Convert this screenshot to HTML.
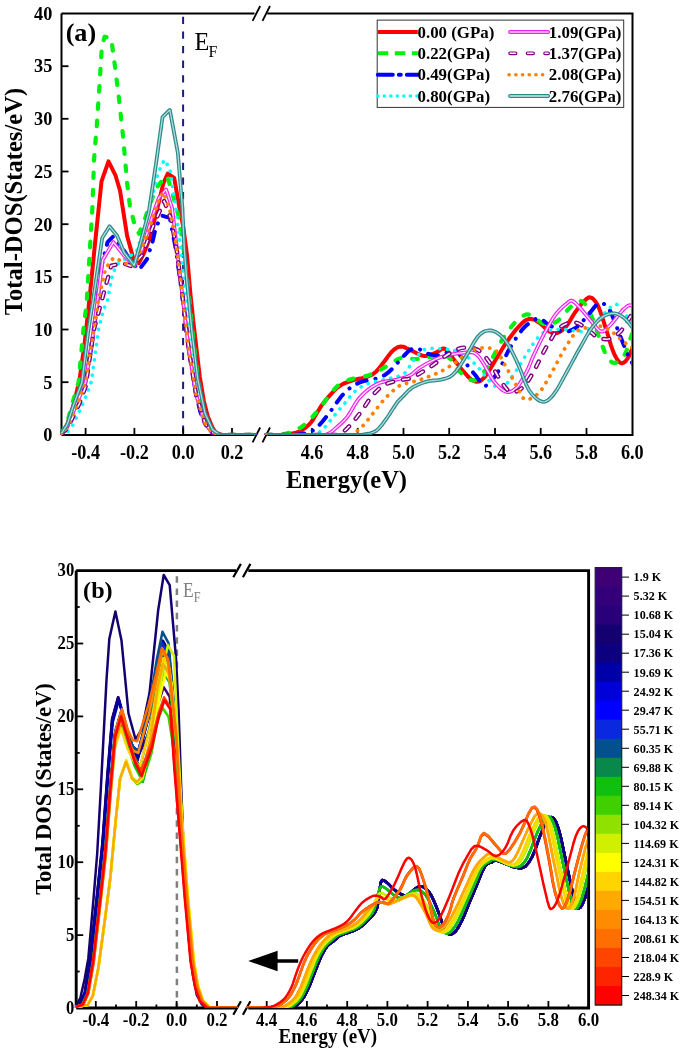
<!DOCTYPE html>
<html><head><meta charset="utf-8"><style>
html,body{margin:0;padding:0;background:#fff;width:685px;height:1052px;overflow:hidden}
svg{display:block;will-change:transform}
text{font-family:"Liberation Serif", serif}
</style></head><body>
<svg width="685" height="1052" viewBox="0 0 685 1052">
<defs>
<clipPath id="clipA"><rect x="60.5" y="14.4" width="571.0" height="420.5"/></clipPath>
<clipPath id="clipAin"><rect x="60.5" y="14.4" width="571.0" height="419.0"/></clipPath>
<clipPath id="clipB"><rect x="75.2" y="572.0" width="512.0" height="436.0"/></clipPath>
</defs>
<line x1="183.1" y1="16.8" x2="183.1" y2="434" stroke="#1c1c80" stroke-width="2" stroke-dasharray="7.3 7.3"/>
<text transform="translate(194.40,50.40) scale(1,1.050)" font-size="24.3" font-weight="normal" text-anchor="start" fill="#000" >E</text>
<text transform="translate(208.50,56.60)" font-size="16" font-weight="normal" text-anchor="start" fill="#000" >F</text>
<text transform="translate(80.90,41.40)" font-size="26.2" font-weight="bold" text-anchor="middle" fill="#000" >(a)</text>
<path d="M61.5,13.4 H254.5 M267.3,13.4 H632.5 V434.9 H267.3 M254.5,434.9 H61.5 Z" fill="none" stroke="#000" stroke-width="2"/>
<path d="M61.5,434.9 V13.4" stroke="#000" stroke-width="2"/>
<path d="M252.6,20.8 L260.2,6.0 M262.5,20.8 L270,6.0" stroke="#000" stroke-width="1.8"/>
<path d="M252.6,442.3 L260.2,427.5 M262.5,442.3 L270,427.5" stroke="#000" stroke-width="1.8"/>
<line x1="85.6" y1="434.9" x2="85.6" y2="427.9" stroke="#000" stroke-width="1.8"/>
<text transform="translate(85.60,458.60) scale(1,1.140)" font-size="18.2" font-weight="bold" text-anchor="middle" fill="#000" >-0.4</text>
<line x1="134.4" y1="434.9" x2="134.4" y2="427.9" stroke="#000" stroke-width="1.8"/>
<text transform="translate(134.40,458.60) scale(1,1.140)" font-size="18.2" font-weight="bold" text-anchor="middle" fill="#000" >-0.2</text>
<line x1="183.2" y1="434.9" x2="183.2" y2="427.9" stroke="#000" stroke-width="1.8"/>
<text transform="translate(183.20,458.60) scale(1,1.140)" font-size="18.2" font-weight="bold" text-anchor="middle" fill="#000" >0.0</text>
<line x1="232.0" y1="434.9" x2="232.0" y2="427.9" stroke="#000" stroke-width="1.8"/>
<text transform="translate(232.00,458.60) scale(1,1.140)" font-size="18.2" font-weight="bold" text-anchor="middle" fill="#000" >0.2</text>
<line x1="312.0" y1="434.9" x2="312.0" y2="427.9" stroke="#000" stroke-width="1.8"/>
<text transform="translate(312.00,458.60) scale(1,1.140)" font-size="18.2" font-weight="bold" text-anchor="middle" fill="#000" >4.6</text>
<line x1="357.7" y1="434.9" x2="357.7" y2="427.9" stroke="#000" stroke-width="1.8"/>
<text transform="translate(357.75,458.60) scale(1,1.140)" font-size="18.2" font-weight="bold" text-anchor="middle" fill="#000" >4.8</text>
<line x1="403.5" y1="434.9" x2="403.5" y2="427.9" stroke="#000" stroke-width="1.8"/>
<text transform="translate(403.50,458.60) scale(1,1.140)" font-size="18.2" font-weight="bold" text-anchor="middle" fill="#000" >5.0</text>
<line x1="449.2" y1="434.9" x2="449.2" y2="427.9" stroke="#000" stroke-width="1.8"/>
<text transform="translate(449.25,458.60) scale(1,1.140)" font-size="18.2" font-weight="bold" text-anchor="middle" fill="#000" >5.2</text>
<line x1="495.0" y1="434.9" x2="495.0" y2="427.9" stroke="#000" stroke-width="1.8"/>
<text transform="translate(495.00,458.60) scale(1,1.140)" font-size="18.2" font-weight="bold" text-anchor="middle" fill="#000" >5.4</text>
<line x1="540.7" y1="434.9" x2="540.7" y2="427.9" stroke="#000" stroke-width="1.8"/>
<text transform="translate(540.75,458.60) scale(1,1.140)" font-size="18.2" font-weight="bold" text-anchor="middle" fill="#000" >5.6</text>
<line x1="586.5" y1="434.9" x2="586.5" y2="427.9" stroke="#000" stroke-width="1.8"/>
<text transform="translate(586.50,458.60) scale(1,1.140)" font-size="18.2" font-weight="bold" text-anchor="middle" fill="#000" >5.8</text>
<text transform="translate(632.25,458.60) scale(1,1.140)" font-size="18.2" font-weight="bold" text-anchor="middle" fill="#000" >6.0</text>
<text transform="translate(52.40,441.20) scale(1,1.083)" font-size="18.3" font-weight="bold" text-anchor="end" fill="#000" >0</text>
<line x1="61.5" y1="382.2" x2="68.5" y2="382.2" stroke="#000" stroke-width="1.8"/>
<text transform="translate(52.40,388.52) scale(1,1.083)" font-size="18.3" font-weight="bold" text-anchor="end" fill="#000" >5</text>
<line x1="61.5" y1="329.5" x2="68.5" y2="329.5" stroke="#000" stroke-width="1.8"/>
<text transform="translate(52.40,335.85) scale(1,1.083)" font-size="18.3" font-weight="bold" text-anchor="end" fill="#000" >10</text>
<line x1="61.5" y1="276.9" x2="68.5" y2="276.9" stroke="#000" stroke-width="1.8"/>
<text transform="translate(52.40,283.18) scale(1,1.083)" font-size="18.3" font-weight="bold" text-anchor="end" fill="#000" >15</text>
<line x1="61.5" y1="224.2" x2="68.5" y2="224.2" stroke="#000" stroke-width="1.8"/>
<text transform="translate(52.40,230.50) scale(1,1.083)" font-size="18.3" font-weight="bold" text-anchor="end" fill="#000" >20</text>
<line x1="61.5" y1="171.5" x2="68.5" y2="171.5" stroke="#000" stroke-width="1.8"/>
<text transform="translate(52.40,177.82) scale(1,1.083)" font-size="18.3" font-weight="bold" text-anchor="end" fill="#000" >25</text>
<line x1="61.5" y1="118.8" x2="68.5" y2="118.8" stroke="#000" stroke-width="1.8"/>
<text transform="translate(52.40,125.15) scale(1,1.083)" font-size="18.3" font-weight="bold" text-anchor="end" fill="#000" >30</text>
<line x1="61.5" y1="66.2" x2="68.5" y2="66.2" stroke="#000" stroke-width="1.8"/>
<text transform="translate(52.40,72.47) scale(1,1.083)" font-size="18.3" font-weight="bold" text-anchor="end" fill="#000" >35</text>
<text transform="translate(52.40,19.80) scale(1,1.083)" font-size="18.3" font-weight="bold" text-anchor="end" fill="#000" >40</text>
<text transform="translate(346.50,487.50) scale(1,1.056)" font-size="24.5" font-weight="bold" text-anchor="middle" fill="#000" >Energy(eV)</text>
<text transform="translate(21.50,201.50) rotate(-90)" font-size="24.6" font-weight="bold" text-anchor="middle" fill="#000" >Total-DOS(States/eV)</text>
<g clip-path="url(#clipA)">
<path d="M61.2,433.8 L67.3,424.4 L73.4,405.4 L79.5,380.1 L84.4,345.4 L88.5,308.5 L95.4,240.0 L101.5,181.4 L108.5,161.4 L115.6,175.7 L120.0,190.5 L127.1,235.8 L133.4,259.0 L138.8,263.2 L144.2,252.6 L150.7,235.8 L157.6,207.3 L163.4,183.1 L167.8,173.6 L174.2,177.8 L179.5,208.4 L183.2,226.3 L187.1,255.8 L190.3,292.7 L193.4,322.2 L199.8,377.0 L203.9,401.2 L207.8,416.5 L212.5,427.5 L215.9,432.8 L222.2,434.9 L256.4,434.9" fill="none" stroke="#ff0000" stroke-width="4.0" stroke-linejoin="round" stroke-dasharray="none" stroke-linecap="butt"/>
<path d="M266.3,434.9 L268.3,434.9 L271.2,434.9 L274.5,434.9 L277.7,434.9 L280.9,434.8 L284.2,434.6 L287.4,434.3 L290.5,433.8 L293.3,433.3 L295.8,432.7 L298.3,431.9 L300.8,430.7 L303.3,429.2 L305.8,427.5 L308.3,425.3 L310.9,422.6 L313.4,419.0 L316.0,414.6 L318.6,410.2 L321.1,406.1 L323.7,402.7 L326.2,399.5 L328.7,396.6 L331.2,393.8 L333.7,391.2 L336.1,388.8 L338.7,386.7 L341.5,384.8 L344.8,383.1 L348.3,381.8 L352.0,380.6 L355.5,379.6 L358.8,378.7 L362.1,378.1 L365.2,377.4 L368.0,376.5 L370.4,375.5 L372.4,374.4 L374.3,373.1 L376.3,371.4 L378.3,369.2 L380.4,366.6 L382.5,363.8 L384.5,361.2 L386.5,358.5 L388.5,355.7 L390.5,353.1 L392.5,350.9 L394.5,349.2 L396.6,347.9 L398.6,346.9 L400.8,346.5 L402.9,346.7 L405.1,347.5 L407.4,348.7 L410.1,349.9 L413.4,351.5 L417.2,353.5 L421.0,355.2 L424.5,356.1 L427.9,355.8 L431.1,354.6 L434.2,353.2 L436.9,352.0 L439.2,350.8 L441.0,349.4 L442.8,348.5 L444.9,348.8 L447.4,350.9 L450.0,354.2 L452.7,357.9 L455.2,361.2 L457.4,363.9 L459.5,366.5 L461.4,369.0 L463.4,371.4 L465.5,373.7 L467.5,376.0 L469.5,378.0 L471.4,379.6 L473.3,380.7 L475.2,381.5 L477.0,381.8 L478.8,381.6 L480.5,380.9 L482.1,379.7 L483.9,377.9 L485.9,375.5 L488.2,372.1 L490.8,367.9 L493.5,363.4 L496.1,359.0 L498.6,355.0 L501.0,350.9 L503.5,346.8 L506.2,342.7 L509.4,338.3 L512.9,333.6 L516.3,329.3 L519.5,325.8 L522.1,323.1 L524.5,321.1 L526.8,319.8 L529.1,319.0 L531.4,319.0 L533.8,319.6 L536.1,320.8 L538.5,322.2 L540.9,324.0 L543.4,326.4 L545.8,328.8 L548.1,330.6 L550.1,331.9 L551.8,332.9 L553.6,333.4 L555.6,333.3 L557.9,332.7 L560.3,331.6 L562.8,329.9 L565.2,327.7 L567.7,324.4 L570.2,320.4 L572.6,316.3 L574.8,312.7 L576.9,309.9 L578.7,307.4 L580.5,305.2 L582.4,303.2 L584.3,301.2 L586.2,299.2 L588.0,297.8 L589.9,297.3 L591.8,297.9 L593.7,299.4 L595.6,301.8 L597.5,304.9 L599.4,309.1 L601.2,314.2 L603.1,319.9 L605.0,325.8 L607.0,332.0 L609.0,338.8 L611.0,345.3 L612.8,350.6 L614.4,354.5 L615.9,357.3 L617.2,359.5 L618.5,361.2 L619.7,362.4 L620.9,363.0 L622.0,363.2 L623.1,362.9 L624.3,362.3 L625.5,361.2 L626.7,359.7 L627.9,358.0 L629.1,355.7 L630.4,352.9 L631.5,350.3 L632.2,348.5" fill="none" stroke="#ff0000" stroke-width="4.0" stroke-linejoin="round" stroke-dasharray="none" stroke-linecap="butt"/>
<path d="M61.2,433.8 L67.3,422.3 L73.4,400.1 L78.6,382.2 L83.4,329.5 L86.6,303.2 L89.3,260.0 L92.4,207.3 L94.1,158.9 L96.8,125.2 L99.5,85.1 L101.9,46.2 L104.6,36.7 L111.2,38.3 L115.1,67.2 L119.0,98.8 L123.2,137.8 L127.1,183.1 L130.0,206.3 L134.4,224.2 L139.0,233.7 L144.2,221.0 L150.3,203.1 L156.1,188.4 L162.5,180.0 L167.1,175.7 L172.5,193.6 L177.8,213.7 L183.2,245.3 L188.1,287.4 L193.0,334.8 L197.8,377.0 L202.7,407.5 L207.6,424.4 L212.5,431.7 L219.8,434.9 L256.4,434.9" fill="none" stroke="#00f010" stroke-width="4.2" stroke-linejoin="round" stroke-dasharray="5.5 11.8" stroke-linecap="round"/>
<path d="M266.3,434.9 L268.3,434.9 L271.3,434.9 L274.6,434.9 L277.7,434.9 L280.5,434.6 L283.4,434.2 L286.2,433.6 L289.1,432.8 L292.0,431.8 L294.9,430.7 L297.8,429.3 L300.8,427.5 L303.8,425.3 L306.8,422.6 L309.8,419.6 L312.9,416.4 L316.1,412.6 L319.3,408.5 L322.6,404.2 L325.7,400.1 L328.8,396.2 L331.8,392.3 L334.8,388.7 L337.8,385.7 L340.7,383.5 L343.4,382.0 L346.3,380.8 L349.7,379.6 L353.9,378.5 L358.6,377.7 L363.4,376.8 L368.0,375.6 L372.3,373.9 L376.4,371.9 L380.5,369.7 L384.5,367.5 L388.6,365.0 L392.7,362.2 L396.8,359.7 L400.8,358.0 L404.7,357.6 L408.5,358.1 L412.3,358.8 L416.1,359.0 L419.7,358.7 L423.2,358.2 L426.8,357.5 L430.5,357.0 L434.6,356.4 L438.9,355.5 L443.1,355.2 L447.0,356.1 L450.3,358.9 L453.3,363.1 L456.2,367.6 L459.3,371.4 L462.8,374.6 L466.5,377.7 L470.2,379.9 L473.7,380.6 L477.0,379.4 L480.0,376.7 L483.0,373.2 L485.9,369.4 L488.6,365.2 L491.3,360.3 L493.8,355.4 L496.1,350.9 L498.3,347.0 L500.1,343.5 L502.0,340.0 L504.2,336.6 L506.6,333.1 L509.1,329.5 L511.8,326.2 L514.4,323.2 L517.2,320.5 L520.0,318.1 L522.7,316.1 L525.2,314.8 L527.3,314.3 L529.0,314.6 L530.8,315.3 L533.0,316.4 L535.5,318.2 L538.4,320.6 L541.4,322.9 L544.4,324.3 L547.6,324.5 L550.8,324.1 L554.1,322.9 L557.4,321.1 L560.8,318.1 L564.2,314.2 L567.5,310.1 L570.7,306.9 L573.7,304.4 L576.5,302.2 L579.3,300.9 L581.9,301.1 L584.5,303.3 L587.0,307.1 L589.3,311.7 L591.5,316.4 L593.6,321.2 L595.4,326.5 L597.2,331.9 L599.1,337.1 L601.0,342.3 L603.0,347.5 L604.9,352.3 L606.9,356.2 L608.7,359.1 L610.5,361.2 L612.4,362.5 L614.4,362.9 L616.7,362.5 L619.2,361.3 L621.7,359.2 L624.0,356.2 L626.2,351.6 L628.2,345.7 L630.0,339.7 L631.6,335.2 L632.7,332.6 L633.5,331.1 L634.1,330.2 L634.5,329.5" fill="none" stroke="#00f010" stroke-width="4.2" stroke-linejoin="round" stroke-dasharray="5.5 11.8" stroke-linecap="round"/>
<path d="M61.2,433.8 L67.3,426.5 L73.4,411.7 L79.5,397.0 L85.4,382.2 L91.7,345.4 L96.6,308.5 L101.5,265.7 L107.6,242.1 L112.9,236.8 L122.7,248.4 L130.7,261.1 L139.0,269.9 L147.1,259.0 L152.7,241.1 L156.1,226.3 L162.5,215.8 L169.8,217.9 L176.1,250.5 L183.4,304.3 L188.8,349.6 L196.1,394.9 L200.3,411.7 L205.2,423.8 L212.5,432.8 L217.4,434.9 L256.4,434.9" fill="none" stroke="#0000ff" stroke-width="4.0" stroke-linejoin="round" stroke-dasharray="10 9 0.1 9" stroke-linecap="round"/>
<path d="M266.3,434.9 L270.6,434.9 L276.8,434.9 L283.5,434.9 L289.1,434.9 L293.3,434.7 L296.9,434.5 L300.0,434.2 L302.8,433.8 L305.2,433.5 L307.1,433.2 L308.9,432.7 L310.9,431.7 L313.0,430.4 L315.2,428.8 L317.5,426.8 L320.0,424.4 L322.7,421.3 L325.5,417.8 L328.4,414.0 L331.2,410.4 L333.9,406.7 L336.5,402.8 L339.2,399.2 L341.7,395.9 L344.3,393.2 L346.8,390.8 L349.3,388.6 L351.8,386.8 L354.3,385.1 L356.7,383.8 L359.2,382.6 L362.1,381.6 L365.4,380.8 L369.1,380.1 L372.8,379.5 L376.3,378.5 L379.4,377.4 L382.3,376.3 L385.3,374.7 L388.4,372.4 L392.0,369.0 L395.9,364.8 L399.6,360.5 L402.8,357.0 L405.2,354.5 L407.0,352.6 L408.6,351.1 L410.4,349.9 L412.3,349.0 L414.2,348.6 L416.2,348.5 L418.4,348.8 L420.7,349.8 L423.2,351.3 L425.9,352.8 L428.7,354.0 L431.6,354.7 L434.6,355.1 L437.7,355.2 L441.0,355.0 L444.5,353.9 L448.1,352.2 L451.7,350.8 L455.2,350.9 L458.5,353.3 L461.8,357.3 L464.8,361.6 L467.6,365.4 L469.8,368.2 L471.7,370.7 L473.5,373.0 L475.6,375.5 L477.9,378.6 L480.4,382.1 L483.1,384.9 L485.9,385.7 L488.8,384.0 L492.0,380.5 L495.2,376.0 L498.2,371.4 L500.9,366.6 L503.4,361.3 L505.8,355.9 L508.3,350.9 L510.9,346.4 L513.5,342.1 L516.1,338.1 L518.6,334.6 L520.7,331.6 L522.7,329.1 L524.7,326.9 L527.0,324.8 L529.7,322.7 L532.7,320.6 L535.7,319.0 L538.5,318.3 L541.0,318.9 L543.3,320.5 L545.6,322.5 L548.1,324.3 L550.9,326.0 L553.9,327.8 L556.9,329.4 L559.5,330.6 L561.6,331.4 L563.3,331.9 L565.0,332.0 L567.1,331.7 L569.6,330.8 L572.5,329.6 L575.5,327.9 L578.5,325.8 L581.4,322.9 L584.3,319.4 L587.2,315.9 L589.9,312.7 L592.4,309.7 L594.7,306.8 L597.0,304.4 L599.3,303.2 L601.7,303.1 L604.1,304.0 L606.5,305.8 L608.9,308.8 L611.4,313.4 L613.8,319.4 L616.3,325.8 L618.5,331.7 L620.6,336.9 L622.6,341.9 L624.4,346.5 L626.1,350.6 L627.6,354.1 L629.1,357.2 L630.4,359.7 L631.6,361.9 L632.6,363.6 L633.4,364.9 L634.1,365.8 L634.5,366.4" fill="none" stroke="#0000ff" stroke-width="4.0" stroke-linejoin="round" stroke-dasharray="10 9 0.1 9" stroke-linecap="round"/>
<path d="M61.2,434.9 L67.3,431.7 L71.9,426.5 L78.3,413.8 L84.4,400.1 L91.2,382.2 L98.5,329.5 L103.9,308.5 L107.1,302.2 L112.9,272.7 L118.5,263.2 L127.1,257.9 L136.4,251.6 L144.2,229.5 L151.5,200.0 L157.8,173.6 L164.2,159.9 L169.8,168.4 L175.9,208.4 L180.8,250.5 L184.4,287.4 L189.3,340.1 L195.4,387.5 L201.5,413.8 L207.6,427.5 L213.7,433.3 L218.6,434.9 L256.4,434.9" fill="none" stroke="#00ffff" stroke-width="3.6" stroke-linejoin="round" stroke-dasharray="0.1 7.6" stroke-linecap="round"/>
<path d="M266.3,434.9 L272.9,434.9 L282.4,434.9 L292.5,434.9 L300.6,434.9 L305.9,434.9 L309.9,434.8 L313.1,434.6 L316.1,433.8 L318.8,432.6 L321.0,431.0 L323.1,429.0 L325.3,426.7 L327.7,424.0 L330.2,420.8 L332.8,417.5 L335.3,414.4 L337.9,411.3 L340.5,408.2 L343.1,405.2 L345.6,402.2 L348.1,399.2 L350.4,396.2 L352.8,393.4 L355.5,390.9 L358.3,388.7 L361.3,386.8 L364.6,385.2 L368.0,383.7 L371.9,382.5 L376.0,381.5 L380.3,380.5 L384.5,379.6 L388.8,378.6 L393.3,377.6 L397.4,376.6 L400.8,375.5 L403.0,374.4 L404.5,373.3 L405.7,372.1 L406.9,370.6 L408.3,368.8 L409.5,366.6 L410.8,364.4 L412.2,362.2 L413.9,360.0 L415.7,357.8 L417.7,355.6 L419.5,353.8 L421.1,352.2 L422.6,350.8 L424.3,349.6 L426.6,348.8 L429.7,348.4 L433.4,348.4 L437.3,348.6 L441.0,348.8 L444.6,349.1 L448.2,349.5 L451.8,350.1 L455.2,350.9 L458.4,352.0 L461.5,353.4 L464.5,355.0 L467.6,357.0 L470.6,359.6 L473.7,362.7 L476.8,366.0 L479.9,369.4 L483.0,373.1 L486.1,377.1 L489.1,380.8 L492.0,383.7 L494.7,385.9 L497.2,387.5 L499.7,388.2 L502.3,387.7 L505.3,385.5 L508.4,381.8 L511.5,377.5 L514.4,373.4 L517.1,369.5 L519.6,365.5 L522.1,361.3 L524.7,357.0 L527.7,352.3 L530.9,347.3 L534.1,342.5 L537.1,338.6 L539.7,335.7 L542.2,333.5 L544.8,331.9 L548.1,330.6 L552.3,329.8 L557.3,329.5 L562.4,329.4 L567.1,329.5 L571.2,330.1 L575.1,331.0 L578.8,331.7 L582.4,331.4 L585.9,330.0 L589.3,327.7 L592.5,324.9 L595.6,322.2 L598.7,319.3 L601.6,316.2 L604.4,313.2 L607.1,310.6 L609.6,308.2 L611.9,306.0 L614.2,304.5 L616.5,304.3 L618.9,305.7 L621.5,308.3 L623.9,311.6 L626.1,314.8 L628.0,318.1 L629.8,321.8 L631.2,325.1 L632.2,327.4" fill="none" stroke="#00ffff" stroke-width="3.6" stroke-linejoin="round" stroke-dasharray="0.1 7.6" stroke-linecap="round"/>
<path d="M61.2,433.8 L67.3,426.5 L73.4,411.7 L79.5,397.0 L85.6,382.2 L92.9,334.8 L97.8,297.9 L102.7,260.0 L113.4,242.1 L124.2,255.8 L134.4,266.3 L141.7,250.5 L151.5,218.9 L158.8,197.9 L166.1,189.4 L172.2,208.4 L177.1,250.5 L183.4,304.3 L188.8,349.6 L196.1,394.9 L205.2,423.8 L212.5,432.8 L217.4,434.9 L256.4,434.9" fill="none" stroke="#f020f0" stroke-width="3.8" stroke-linejoin="round" stroke-dasharray="none" stroke-linecap="butt"/>
<g clip-path="url(#clipAin)"><path d="M61.2,433.8 L67.3,426.5 L73.4,411.7 L79.5,397.0 L85.6,382.2 L92.9,334.8 L97.8,297.9 L102.7,260.0 L113.4,242.1 L124.2,255.8 L134.4,266.3 L141.7,250.5 L151.5,218.9 L158.8,197.9 L166.1,189.4 L172.2,208.4 L177.1,250.5 L183.4,304.3 L188.8,349.6 L196.1,394.9 L205.2,423.8 L212.5,432.8 L217.4,434.9 L256.4,434.9" fill="none" stroke="#ffe8ff" stroke-width="1.4" stroke-linejoin="round" stroke-dasharray="none" stroke-linecap="butt"/></g>
<path d="M266.3,434.9 L276.2,434.9 L290.7,434.9 L305.5,434.9 L316.6,434.9 L322.2,434.9 L324.9,434.8 L326.2,434.6 L328.0,433.8 L330.5,432.6 L332.8,430.8 L335.0,428.8 L337.4,426.7 L339.9,424.5 L342.5,422.1 L345.1,419.4 L347.7,416.4 L350.2,412.6 L352.7,408.2 L355.2,403.9 L357.7,400.1 L360.3,397.1 L362.8,394.4 L365.3,392.0 L368.0,389.8 L370.9,387.7 L373.8,385.8 L377.0,384.1 L380.4,382.6 L384.3,381.6 L388.5,380.9 L392.7,380.3 L396.6,379.6 L400.2,378.7 L403.6,377.9 L406.9,376.8 L409.9,375.5 L412.5,373.8 L414.7,371.8 L417.2,369.6 L420.4,367.3 L424.9,364.7 L430.1,361.9 L435.6,359.2 L441.0,357.0 L446.4,355.5 L451.8,354.4 L457.0,353.5 L461.6,352.9 L465.4,352.5 L468.6,352.2 L471.4,352.3 L474.0,352.9 L476.2,354.1 L478.0,355.8 L479.8,358.0 L482.0,361.2 L484.7,365.6 L487.8,371.2 L491.0,376.9 L494.1,381.6 L497.2,385.2 L500.3,388.2 L503.3,390.5 L506.2,391.8 L508.9,392.1 L511.5,391.4 L514.0,389.9 L516.5,387.7 L519.2,384.5 L521.8,380.3 L524.4,375.8 L526.8,371.4 L528.7,367.4 L530.3,363.4 L531.9,359.3 L533.9,354.8 L536.3,349.7 L538.9,344.2 L541.7,338.6 L544.4,333.3 L547.2,328.3 L550.0,323.3 L552.8,318.6 L555.6,314.5 L558.6,310.9 L561.7,307.8 L564.6,305.2 L567.1,303.2 L568.8,301.8 L570.0,300.9 L571.2,300.6 L572.8,301.1 L574.9,302.6 L577.3,305.0 L579.9,307.8 L582.4,310.6 L584.8,313.4 L587.2,316.4 L589.6,319.4 L592.0,322.2 L594.3,325.1 L596.7,328.1 L599.0,330.5 L601.4,331.7 L603.8,331.1 L606.2,329.3 L608.6,326.8 L611.0,324.3 L613.4,321.6 L615.8,318.5 L618.1,315.4 L620.4,312.7 L622.4,310.5 L624.4,308.6 L626.3,307.0 L627.9,305.8 L629.3,305.3 L630.5,305.2 L631.5,305.3 L632.2,305.3" fill="none" stroke="#f020f0" stroke-width="3.8" stroke-linejoin="round" stroke-dasharray="none" stroke-linecap="butt"/>
<g clip-path="url(#clipAin)"><path d="M266.3,434.9 L276.2,434.9 L290.7,434.9 L305.5,434.9 L316.6,434.9 L322.2,434.9 L324.9,434.8 L326.2,434.6 L328.0,433.8 L330.5,432.6 L332.8,430.8 L335.0,428.8 L337.4,426.7 L339.9,424.5 L342.5,422.1 L345.1,419.4 L347.7,416.4 L350.2,412.6 L352.7,408.2 L355.2,403.9 L357.7,400.1 L360.3,397.1 L362.8,394.4 L365.3,392.0 L368.0,389.8 L370.9,387.7 L373.8,385.8 L377.0,384.1 L380.4,382.6 L384.3,381.6 L388.5,380.9 L392.7,380.3 L396.6,379.6 L400.2,378.7 L403.6,377.9 L406.9,376.8 L409.9,375.5 L412.5,373.8 L414.7,371.8 L417.2,369.6 L420.4,367.3 L424.9,364.7 L430.1,361.9 L435.6,359.2 L441.0,357.0 L446.4,355.5 L451.8,354.4 L457.0,353.5 L461.6,352.9 L465.4,352.5 L468.6,352.2 L471.4,352.3 L474.0,352.9 L476.2,354.1 L478.0,355.8 L479.8,358.0 L482.0,361.2 L484.7,365.6 L487.8,371.2 L491.0,376.9 L494.1,381.6 L497.2,385.2 L500.3,388.2 L503.3,390.5 L506.2,391.8 L508.9,392.1 L511.5,391.4 L514.0,389.9 L516.5,387.7 L519.2,384.5 L521.8,380.3 L524.4,375.8 L526.8,371.4 L528.7,367.4 L530.3,363.4 L531.9,359.3 L533.9,354.8 L536.3,349.7 L538.9,344.2 L541.7,338.6 L544.4,333.3 L547.2,328.3 L550.0,323.3 L552.8,318.6 L555.6,314.5 L558.6,310.9 L561.7,307.8 L564.6,305.2 L567.1,303.2 L568.8,301.8 L570.0,300.9 L571.2,300.6 L572.8,301.1 L574.9,302.6 L577.3,305.0 L579.9,307.8 L582.4,310.6 L584.8,313.4 L587.2,316.4 L589.6,319.4 L592.0,322.2 L594.3,325.1 L596.7,328.1 L599.0,330.5 L601.4,331.7 L603.8,331.1 L606.2,329.3 L608.6,326.8 L611.0,324.3 L613.4,321.6 L615.8,318.5 L618.1,315.4 L620.4,312.7 L622.4,310.5 L624.4,308.6 L626.3,307.0 L627.9,305.8 L629.3,305.3 L630.5,305.2 L631.5,305.3 L632.2,305.3" fill="none" stroke="#ffe8ff" stroke-width="1.4" stroke-linejoin="round" stroke-dasharray="none" stroke-linecap="butt"/></g>
<path d="M61.2,433.8 L67.3,428.6 L73.4,415.9 L79.5,403.3 L85.6,386.4 L93.9,329.5 L101.0,303.2 L102.7,296.9 L111.2,265.7 L122.7,263.2 L132.0,266.3 L141.7,255.8 L153.9,224.2 L164.2,201.0 L171.0,218.9 L177.1,252.6 L183.2,302.2 L188.8,349.6 L196.1,394.9 L205.2,423.8 L212.5,432.8 L217.4,434.9 L256.4,434.9" fill="none" stroke="#800080" stroke-width="4.4" stroke-linejoin="round" stroke-dasharray="6 10" stroke-linecap="round"/>
<g clip-path="url(#clipAin)"><path d="M61.2,433.8 L67.3,428.6 L73.4,415.9 L79.5,403.3 L85.6,386.4 L93.9,329.5 L101.0,303.2 L102.7,296.9 L111.2,265.7 L122.7,263.2 L132.0,266.3 L141.7,255.8 L153.9,224.2 L164.2,201.0 L171.0,218.9 L177.1,252.6 L183.2,302.2 L188.8,349.6 L196.1,394.9 L205.2,423.8 L212.5,432.8 L217.4,434.9 L256.4,434.9" fill="none" stroke="#ffffff" stroke-width="1.6" stroke-linejoin="round" stroke-dasharray="6 10" stroke-linecap="round"/></g>
<path d="M266.3,434.9 L279.0,434.9 L297.7,434.9 L316.6,434.9 L330.3,434.9 L336.6,434.9 L338.6,434.9 L339.0,434.6 L340.1,433.8 L342.5,432.5 L344.8,430.6 L347.2,428.3 L349.7,425.6 L352.7,422.3 L355.9,418.4 L359.1,414.3 L362.1,410.4 L364.7,406.6 L367.1,402.9 L369.5,399.3 L372.2,395.9 L375.0,392.7 L378.0,389.7 L381.1,387.0 L384.5,384.8 L388.5,383.1 L392.8,381.8 L397.1,380.9 L400.8,380.1 L403.6,379.5 L405.9,379.2 L408.0,379.0 L409.9,378.5 L411.5,378.0 L412.7,377.5 L414.1,376.8 L416.3,375.5 L419.7,373.5 L423.9,370.9 L428.4,368.1 L432.6,365.4 L436.3,362.7 L439.9,360.0 L443.4,357.4 L447.0,355.0 L450.6,352.8 L454.2,350.7 L457.8,349.0 L461.6,347.9 L465.6,347.5 L469.9,347.6 L474.0,348.4 L477.8,349.9 L481.3,352.4 L484.4,355.7 L487.4,359.4 L490.2,363.3 L492.8,367.2 L495.2,371.5 L497.6,375.7 L500.0,379.6 L502.5,383.3 L505.0,387.0 L507.6,390.0 L510.3,391.8 L513.3,392.2 L516.4,391.5 L519.5,389.9 L522.4,387.7 L525.2,384.8 L527.9,381.1 L530.5,377.0 L533.0,372.7 L535.4,368.3 L537.8,363.4 L540.2,358.6 L542.4,354.3 L544.3,350.7 L546.1,347.4 L547.9,344.3 L549.9,341.1 L552.0,337.6 L554.2,333.9 L556.7,330.5 L559.5,327.7 L562.9,325.4 L566.8,323.5 L570.9,322.3 L574.8,322.2 L578.8,323.6 L582.9,326.2 L586.7,329.2 L589.9,331.7 L592.3,333.4 L593.9,334.9 L595.5,336.1 L597.5,337.1 L600.1,338.1 L603.0,338.9 L606.0,339.3 L608.9,339.0 L611.8,338.0 L614.8,336.4 L617.6,334.2 L620.4,331.7 L623.1,328.3 L625.7,324.2 L628.1,320.2 L630.0,317.2 L631.1,315.5 L631.7,314.6 L632.0,314.1 L632.2,313.7" fill="none" stroke="#800080" stroke-width="4.4" stroke-linejoin="round" stroke-dasharray="6 10" stroke-linecap="round"/>
<g clip-path="url(#clipAin)"><path d="M266.3,434.9 L279.0,434.9 L297.7,434.9 L316.6,434.9 L330.3,434.9 L336.6,434.9 L338.6,434.9 L339.0,434.6 L340.1,433.8 L342.5,432.5 L344.8,430.6 L347.2,428.3 L349.7,425.6 L352.7,422.3 L355.9,418.4 L359.1,414.3 L362.1,410.4 L364.7,406.6 L367.1,402.9 L369.5,399.3 L372.2,395.9 L375.0,392.7 L378.0,389.7 L381.1,387.0 L384.5,384.8 L388.5,383.1 L392.8,381.8 L397.1,380.9 L400.8,380.1 L403.6,379.5 L405.9,379.2 L408.0,379.0 L409.9,378.5 L411.5,378.0 L412.7,377.5 L414.1,376.8 L416.3,375.5 L419.7,373.5 L423.9,370.9 L428.4,368.1 L432.6,365.4 L436.3,362.7 L439.9,360.0 L443.4,357.4 L447.0,355.0 L450.6,352.8 L454.2,350.7 L457.8,349.0 L461.6,347.9 L465.6,347.5 L469.9,347.6 L474.0,348.4 L477.8,349.9 L481.3,352.4 L484.4,355.7 L487.4,359.4 L490.2,363.3 L492.8,367.2 L495.2,371.5 L497.6,375.7 L500.0,379.6 L502.5,383.3 L505.0,387.0 L507.6,390.0 L510.3,391.8 L513.3,392.2 L516.4,391.5 L519.5,389.9 L522.4,387.7 L525.2,384.8 L527.9,381.1 L530.5,377.0 L533.0,372.7 L535.4,368.3 L537.8,363.4 L540.2,358.6 L542.4,354.3 L544.3,350.7 L546.1,347.4 L547.9,344.3 L549.9,341.1 L552.0,337.6 L554.2,333.9 L556.7,330.5 L559.5,327.7 L562.9,325.4 L566.8,323.5 L570.9,322.3 L574.8,322.2 L578.8,323.6 L582.9,326.2 L586.7,329.2 L589.9,331.7 L592.3,333.4 L593.9,334.9 L595.5,336.1 L597.5,337.1 L600.1,338.1 L603.0,338.9 L606.0,339.3 L608.9,339.0 L611.8,338.0 L614.8,336.4 L617.6,334.2 L620.4,331.7 L623.1,328.3 L625.7,324.2 L628.1,320.2 L630.0,317.2 L631.1,315.5 L631.7,314.6 L632.0,314.1 L632.2,313.7" fill="none" stroke="#ffffff" stroke-width="1.6" stroke-linejoin="round" stroke-dasharray="6 10" stroke-linecap="round"/></g>
<path d="M61.2,433.8 L67.3,427.5 L73.4,413.8 L79.5,399.1 L85.6,382.2 L93.9,329.5 L97.8,303.2 L105.6,268.4 L113.4,257.9 L122.2,261.1 L130.0,266.3 L136.8,261.1 L149.0,229.5 L158.8,200.0 L163.4,192.1 L171.0,213.7 L177.1,250.5 L183.2,302.2 L188.8,349.6 L196.1,394.9 L205.2,423.8 L212.5,432.8 L217.4,434.9 L256.4,434.9" fill="none" stroke="#ff7f00" stroke-width="3.8" stroke-linejoin="round" stroke-dasharray="0.1 7.6" stroke-linecap="round"/>
<path d="M266.3,434.9 L281.3,434.9 L303.4,434.9 L325.7,434.9 L341.7,434.9 L348.9,434.9 L351.0,434.8 L351.0,434.6 L352.0,433.8 L354.6,432.6 L357.1,431.0 L359.6,429.0 L362.1,426.7 L364.6,424.0 L367.0,421.0 L369.5,417.8 L372.2,414.4 L375.1,410.7 L378.2,406.7 L381.4,402.7 L384.5,399.1 L387.7,395.8 L390.9,392.6 L394.0,389.9 L396.6,387.7 L398.5,386.3 L399.8,385.6 L401.2,385.1 L403.5,384.3 L406.9,383.3 L411.1,382.3 L415.7,381.1 L420.4,379.6 L425.4,377.8 L430.8,375.8 L436.1,373.7 L441.0,371.4 L445.5,369.0 L449.6,366.4 L453.6,363.8 L457.3,361.2 L460.6,358.4 L463.7,355.6 L466.7,353.0 L469.8,350.9 L473.3,349.5 L477.0,348.6 L480.6,348.0 L484.0,347.9 L487.2,347.9 L490.3,348.2 L493.3,349.1 L496.1,350.9 L498.8,354.0 L501.3,358.1 L503.7,362.7 L506.2,367.3 L508.8,371.8 L511.4,376.6 L514.0,381.4 L516.5,385.7 L518.7,390.0 L520.7,394.2 L522.7,397.7 L525.2,399.6 L528.3,399.6 L531.8,398.2 L535.3,395.9 L538.5,393.3 L541.1,390.4 L543.5,386.9 L545.8,383.0 L548.1,379.1 L550.4,375.0 L552.8,370.7 L555.1,366.2 L557.4,361.9 L559.8,357.5 L562.2,353.1 L564.6,348.8 L567.1,344.8 L569.5,341.0 L571.9,337.3 L574.3,334.0 L576.7,331.4 L579.0,329.8 L581.4,328.8 L583.8,328.2 L586.3,327.7 L589.0,326.9 L591.8,326.2 L594.6,325.8 L597.5,325.8 L600.3,326.2 L603.2,326.9 L606.1,328.1 L608.9,329.5 L611.8,331.6 L614.8,334.0 L617.6,336.7 L620.4,339.0 L623.1,341.2 L625.7,343.4 L628.1,345.3 L630.0,346.7 L631.1,347.4 L631.7,347.6 L632.0,347.5 L632.2,347.5" fill="none" stroke="#ff7f00" stroke-width="3.8" stroke-linejoin="round" stroke-dasharray="0.1 7.6" stroke-linecap="round"/>
<path d="M61.2,433.8 L67.3,424.4 L73.4,405.4 L81.9,382.2 L88.5,329.5 L92.7,303.2 L97.8,268.4 L102.2,237.9 L109.5,226.3 L117.1,235.8 L124.2,252.6 L134.2,265.3 L140.0,244.6 L148.8,212.1 L156.4,161.0 L162.5,117.2 L169.8,109.9 L177.8,152.6 L182.2,205.2 L184.4,250.5 L186.9,281.1 L191.7,329.5 L197.8,379.1 L205.2,413.8 L212.5,429.6 L219.8,434.9 L256.4,434.9" fill="none" stroke="#2e8b8b" stroke-width="3.8" stroke-linejoin="round" stroke-dasharray="none" stroke-linecap="butt"/>
<g clip-path="url(#clipAin)"><path d="M61.2,433.8 L67.3,424.4 L73.4,405.4 L81.9,382.2 L88.5,329.5 L92.7,303.2 L97.8,268.4 L102.2,237.9 L109.5,226.3 L117.1,235.8 L124.2,252.6 L134.2,265.3 L140.0,244.6 L148.8,212.1 L156.4,161.0 L162.5,117.2 L169.8,109.9 L177.8,152.6 L182.2,205.2 L184.4,250.5 L186.9,281.1 L191.7,329.5 L197.8,379.1 L205.2,413.8 L212.5,429.6 L219.8,434.9 L256.4,434.9" fill="none" stroke="#b0dcdc" stroke-width="1.3" stroke-linejoin="round" stroke-dasharray="none" stroke-linecap="butt"/></g>
<path d="M266.3,434.9 L283.6,434.9 L309.0,434.9 L334.7,434.9 L353.2,434.9 L361.2,434.9 L363.3,434.9 L363.1,434.7 L364.2,434.4 L367.1,433.9 L370.3,433.3 L373.3,432.3 L376.3,430.7 L379.0,428.3 L381.6,425.3 L384.1,421.9 L386.6,418.5 L389.2,414.7 L391.8,410.6 L394.4,406.6 L396.6,403.3 L398.5,400.9 L400.2,399.2 L401.7,397.6 L403.5,395.9 L405.4,393.9 L407.4,391.7 L409.6,389.6 L412.2,387.7 L415.4,385.9 L419.0,384.3 L422.9,382.8 L426.6,381.6 L430.3,380.9 L434.0,380.5 L437.6,380.2 L441.0,379.6 L444.2,378.8 L447.2,378.0 L450.1,376.7 L453.1,374.5 L456.2,371.1 L459.3,366.8 L462.4,361.9 L465.5,357.0 L468.6,351.8 L471.8,346.1 L474.9,340.8 L477.8,336.6 L480.6,333.9 L483.1,332.1 L485.6,331.0 L488.1,330.5 L490.7,330.4 L493.2,330.9 L495.7,332.0 L498.2,333.6 L500.7,335.6 L503.2,338.0 L505.7,341.1 L508.3,344.8 L510.9,349.4 L513.6,354.8 L516.4,360.6 L519.0,366.4 L521.5,372.5 L523.9,379.0 L526.4,385.2 L529.1,390.3 L532.2,394.5 L535.6,398.0 L539.1,400.6 L542.4,401.8 L545.3,401.6 L548.1,400.2 L550.8,397.7 L553.8,394.2 L557.0,389.6 L560.3,383.9 L563.7,377.6 L567.1,371.4 L570.5,365.2 L573.9,358.8 L577.3,352.5 L580.6,346.7 L583.6,341.4 L586.4,336.4 L589.2,331.7 L592.0,327.7 L594.8,324.1 L597.7,321.0 L600.6,318.4 L603.4,316.4 L606.3,314.9 L609.3,313.9 L612.1,313.4 L614.9,313.4 L617.4,314.0 L619.9,315.1 L622.2,316.6 L624.5,318.3 L626.7,320.5 L629.0,323.2 L630.9,325.7 L632.2,327.4" fill="none" stroke="#2e8b8b" stroke-width="3.8" stroke-linejoin="round" stroke-dasharray="none" stroke-linecap="butt"/>
<g clip-path="url(#clipAin)"><path d="M266.3,434.9 L283.6,434.9 L309.0,434.9 L334.7,434.9 L353.2,434.9 L361.2,434.9 L363.3,434.9 L363.1,434.7 L364.2,434.4 L367.1,433.9 L370.3,433.3 L373.3,432.3 L376.3,430.7 L379.0,428.3 L381.6,425.3 L384.1,421.9 L386.6,418.5 L389.2,414.7 L391.8,410.6 L394.4,406.6 L396.6,403.3 L398.5,400.9 L400.2,399.2 L401.7,397.6 L403.5,395.9 L405.4,393.9 L407.4,391.7 L409.6,389.6 L412.2,387.7 L415.4,385.9 L419.0,384.3 L422.9,382.8 L426.6,381.6 L430.3,380.9 L434.0,380.5 L437.6,380.2 L441.0,379.6 L444.2,378.8 L447.2,378.0 L450.1,376.7 L453.1,374.5 L456.2,371.1 L459.3,366.8 L462.4,361.9 L465.5,357.0 L468.6,351.8 L471.8,346.1 L474.9,340.8 L477.8,336.6 L480.6,333.9 L483.1,332.1 L485.6,331.0 L488.1,330.5 L490.7,330.4 L493.2,330.9 L495.7,332.0 L498.2,333.6 L500.7,335.6 L503.2,338.0 L505.7,341.1 L508.3,344.8 L510.9,349.4 L513.6,354.8 L516.4,360.6 L519.0,366.4 L521.5,372.5 L523.9,379.0 L526.4,385.2 L529.1,390.3 L532.2,394.5 L535.6,398.0 L539.1,400.6 L542.4,401.8 L545.3,401.6 L548.1,400.2 L550.8,397.7 L553.8,394.2 L557.0,389.6 L560.3,383.9 L563.7,377.6 L567.1,371.4 L570.5,365.2 L573.9,358.8 L577.3,352.5 L580.6,346.7 L583.6,341.4 L586.4,336.4 L589.2,331.7 L592.0,327.7 L594.8,324.1 L597.7,321.0 L600.6,318.4 L603.4,316.4 L606.3,314.9 L609.3,313.9 L612.1,313.4 L614.9,313.4 L617.4,314.0 L619.9,315.1 L622.2,316.6 L624.5,318.3 L626.7,320.5 L629.0,323.2 L630.9,325.7 L632.2,327.4" fill="none" stroke="#b0dcdc" stroke-width="1.3" stroke-linejoin="round" stroke-dasharray="none" stroke-linecap="butt"/></g>
</g>
<rect x="377.2" y="20.1" width="246.5" height="87.3" fill="#fff" stroke="#333" stroke-width="1"/>
<line x1="377.8" y1="32.0" x2="417.8" y2="32.0" stroke="#ff0000" stroke-width="4" stroke-dasharray="none" stroke-linecap="butt"/>
<text transform="translate(417.50,37.60) scale(1,0.930)" font-size="16.9" font-weight="bold" text-anchor="start" fill="#000" >0.00 (GPa)</text>
<line x1="377.8" y1="53.3" x2="417.8" y2="53.3" stroke="#00f010" stroke-width="4" stroke-dasharray="10.5 6.5" stroke-linecap="butt"/>
<text transform="translate(417.50,58.90) scale(1,0.930)" font-size="16.9" font-weight="bold" text-anchor="start" fill="#000" >0.22(GPa)</text>
<line x1="377.8" y1="74.7" x2="417.8" y2="74.7" stroke="#0000ff" stroke-width="4" stroke-dasharray="15 6 2 6" stroke-linecap="round"/>
<text transform="translate(417.50,80.30) scale(1,0.930)" font-size="16.9" font-weight="bold" text-anchor="start" fill="#000" >0.49(GPa)</text>
<line x1="377.8" y1="96.0" x2="417.8" y2="96.0" stroke="#00ffff" stroke-width="3.5" stroke-dasharray="0.1 6.4" stroke-linecap="round"/>
<text transform="translate(417.50,101.60) scale(1,0.930)" font-size="16.9" font-weight="bold" text-anchor="start" fill="#000" >0.80(GPa)</text>
<line x1="510.1" y1="32.0" x2="548.1" y2="32.0" stroke="#f020f0" stroke-width="4" stroke-dasharray="none" stroke-linecap="round"/>
<line x1="510.1" y1="32.0" x2="548.1" y2="32.0" stroke="#ffccff" stroke-width="1.5" stroke-dasharray="none" stroke-linecap="round"/>
<text transform="translate(548.80,37.60) scale(1,0.930)" font-size="16.9" font-weight="bold" text-anchor="start" fill="#000" >1.09(GPa)</text>
<line x1="510.1" y1="53.3" x2="548.1" y2="53.3" stroke="#800080" stroke-width="3.8" stroke-dasharray="5.5 12" stroke-linecap="round"/>
<line x1="510.1" y1="53.3" x2="548.1" y2="53.3" stroke="#ffffff" stroke-width="1.4" stroke-dasharray="5.5 12" stroke-linecap="round"/>
<text transform="translate(548.80,58.90) scale(1,0.930)" font-size="16.9" font-weight="bold" text-anchor="start" fill="#000" >1.37(GPa)</text>
<line x1="509.1" y1="74.7" x2="549.1" y2="74.7" stroke="#ff7f00" stroke-width="3.6" stroke-dasharray="0.1 6.6" stroke-linecap="round"/>
<text transform="translate(548.80,80.30) scale(1,0.930)" font-size="16.9" font-weight="bold" text-anchor="start" fill="#000" >2.08(GPa)</text>
<line x1="510.1" y1="96.0" x2="548.1" y2="96.0" stroke="#2a8a8a" stroke-width="4" stroke-dasharray="none" stroke-linecap="round"/>
<line x1="510.1" y1="96.0" x2="548.1" y2="96.0" stroke="#c8e8e8" stroke-width="1.4" stroke-dasharray="none" stroke-linecap="round"/>
<text transform="translate(548.80,101.60) scale(1,0.930)" font-size="16.9" font-weight="bold" text-anchor="start" fill="#000" >2.76(GPa)</text>
<line x1="176.9" y1="576.2" x2="176.9" y2="1008" stroke="#808080" stroke-width="2.5" stroke-dasharray="6.5 5.7"/>
<text transform="translate(183.00,597.30) scale(1,1.140)" font-size="17.5" font-weight="normal" text-anchor="start" fill="#808080" >E</text>
<text transform="translate(193.80,601.90) scale(1,1.110)" font-size="12.3" font-weight="normal" text-anchor="start" fill="#808080" >F</text>
<text transform="translate(97.90,597.60) scale(1,0.960)" font-size="24.2" font-weight="bold" text-anchor="middle" fill="#000" >(b)</text>
<path d="M76.2,570.6 H236 M248.3,570.6 H588.6 V1008.0 H248.3 M236,1008.0 H76.2 Z" fill="none" stroke="#000" stroke-width="2.9"/>
<path d="M76.2,1008.0 V570.6" stroke="#000" stroke-width="2.9"/>
<path d="M233.3,577.3 L240.9,563.9 M242.9,577.3 L250.4,563.9" stroke="#000" stroke-width="2.2"/>
<path d="M233.3,1014.7 L240.9,1001.3 M242.9,1014.7 L250.4,1001.3" stroke="#000" stroke-width="2.2"/>
<line x1="95.8" y1="1008.0" x2="95.8" y2="1001.0" stroke="#000" stroke-width="1.8"/>
<text transform="translate(95.80,1025.50) scale(1,1.110)" font-size="16.9" font-weight="bold" text-anchor="middle" fill="#000" >-0.4</text>
<line x1="116.0" y1="1008.0" x2="116.0" y2="1004.5" stroke="#000" stroke-width="1.8"/>
<line x1="136.2" y1="1008.0" x2="136.2" y2="1001.0" stroke="#000" stroke-width="1.8"/>
<text transform="translate(136.20,1025.50) scale(1,1.110)" font-size="16.9" font-weight="bold" text-anchor="middle" fill="#000" >-0.2</text>
<line x1="156.4" y1="1008.0" x2="156.4" y2="1004.5" stroke="#000" stroke-width="1.8"/>
<line x1="176.6" y1="1008.0" x2="176.6" y2="1001.0" stroke="#000" stroke-width="1.8"/>
<text transform="translate(176.60,1025.50) scale(1,1.110)" font-size="16.9" font-weight="bold" text-anchor="middle" fill="#000" >0.0</text>
<line x1="196.8" y1="1008.0" x2="196.8" y2="1004.5" stroke="#000" stroke-width="1.8"/>
<line x1="217.0" y1="1008.0" x2="217.0" y2="1001.0" stroke="#000" stroke-width="1.8"/>
<text transform="translate(217.00,1025.50) scale(1,1.110)" font-size="16.9" font-weight="bold" text-anchor="middle" fill="#000" >0.2</text>
<line x1="266.7" y1="1008.0" x2="266.7" y2="1001.0" stroke="#000" stroke-width="1.8"/>
<text transform="translate(266.68,1025.50) scale(1,1.110)" font-size="16.9" font-weight="bold" text-anchor="middle" fill="#000" >4.4</text>
<line x1="286.8" y1="1008.0" x2="286.8" y2="1004.5" stroke="#000" stroke-width="1.8"/>
<line x1="306.9" y1="1008.0" x2="306.9" y2="1001.0" stroke="#000" stroke-width="1.8"/>
<text transform="translate(306.92,1025.50) scale(1,1.110)" font-size="16.9" font-weight="bold" text-anchor="middle" fill="#000" >4.6</text>
<line x1="327.0" y1="1008.0" x2="327.0" y2="1004.5" stroke="#000" stroke-width="1.8"/>
<line x1="347.2" y1="1008.0" x2="347.2" y2="1001.0" stroke="#000" stroke-width="1.8"/>
<text transform="translate(347.16,1025.50) scale(1,1.110)" font-size="16.9" font-weight="bold" text-anchor="middle" fill="#000" >4.8</text>
<line x1="367.3" y1="1008.0" x2="367.3" y2="1004.5" stroke="#000" stroke-width="1.8"/>
<line x1="387.4" y1="1008.0" x2="387.4" y2="1001.0" stroke="#000" stroke-width="1.8"/>
<text transform="translate(387.40,1025.50) scale(1,1.110)" font-size="16.9" font-weight="bold" text-anchor="middle" fill="#000" >5.0</text>
<line x1="407.5" y1="1008.0" x2="407.5" y2="1004.5" stroke="#000" stroke-width="1.8"/>
<line x1="427.6" y1="1008.0" x2="427.6" y2="1001.0" stroke="#000" stroke-width="1.8"/>
<text transform="translate(427.64,1025.50) scale(1,1.110)" font-size="16.9" font-weight="bold" text-anchor="middle" fill="#000" >5.2</text>
<line x1="447.8" y1="1008.0" x2="447.8" y2="1004.5" stroke="#000" stroke-width="1.8"/>
<line x1="467.9" y1="1008.0" x2="467.9" y2="1001.0" stroke="#000" stroke-width="1.8"/>
<text transform="translate(467.88,1025.50) scale(1,1.110)" font-size="16.9" font-weight="bold" text-anchor="middle" fill="#000" >5.4</text>
<line x1="488.0" y1="1008.0" x2="488.0" y2="1004.5" stroke="#000" stroke-width="1.8"/>
<line x1="508.1" y1="1008.0" x2="508.1" y2="1001.0" stroke="#000" stroke-width="1.8"/>
<text transform="translate(508.12,1025.50) scale(1,1.110)" font-size="16.9" font-weight="bold" text-anchor="middle" fill="#000" >5.6</text>
<line x1="528.2" y1="1008.0" x2="528.2" y2="1004.5" stroke="#000" stroke-width="1.8"/>
<line x1="548.4" y1="1008.0" x2="548.4" y2="1001.0" stroke="#000" stroke-width="1.8"/>
<text transform="translate(548.36,1025.50) scale(1,1.110)" font-size="16.9" font-weight="bold" text-anchor="middle" fill="#000" >5.8</text>
<line x1="568.5" y1="1008.0" x2="568.5" y2="1004.5" stroke="#000" stroke-width="1.8"/>
<text transform="translate(588.60,1025.50) scale(1,1.110)" font-size="16.9" font-weight="bold" text-anchor="middle" fill="#000" >6.0</text>
<text transform="translate(74.30,1013.80) scale(1,1.120)" font-size="16.7" font-weight="bold" text-anchor="end" fill="#000" >0</text>
<line x1="76.2" y1="971.5" x2="79.7" y2="971.5" stroke="#000" stroke-width="1.8"/>
<line x1="76.2" y1="935.1" x2="83.2" y2="935.1" stroke="#000" stroke-width="1.8"/>
<text transform="translate(74.30,940.90) scale(1,1.120)" font-size="16.7" font-weight="bold" text-anchor="end" fill="#000" >5</text>
<line x1="76.2" y1="898.6" x2="79.7" y2="898.6" stroke="#000" stroke-width="1.8"/>
<line x1="76.2" y1="862.2" x2="83.2" y2="862.2" stroke="#000" stroke-width="1.8"/>
<text transform="translate(74.30,868.00) scale(1,1.120)" font-size="16.7" font-weight="bold" text-anchor="end" fill="#000" >10</text>
<line x1="76.2" y1="825.8" x2="79.7" y2="825.8" stroke="#000" stroke-width="1.8"/>
<line x1="76.2" y1="789.3" x2="83.2" y2="789.3" stroke="#000" stroke-width="1.8"/>
<text transform="translate(74.30,795.10) scale(1,1.120)" font-size="16.7" font-weight="bold" text-anchor="end" fill="#000" >15</text>
<line x1="76.2" y1="752.9" x2="79.7" y2="752.9" stroke="#000" stroke-width="1.8"/>
<line x1="76.2" y1="716.4" x2="83.2" y2="716.4" stroke="#000" stroke-width="1.8"/>
<text transform="translate(74.30,722.20) scale(1,1.120)" font-size="16.7" font-weight="bold" text-anchor="end" fill="#000" >20</text>
<line x1="76.2" y1="680.0" x2="79.7" y2="680.0" stroke="#000" stroke-width="1.8"/>
<line x1="76.2" y1="643.5" x2="83.2" y2="643.5" stroke="#000" stroke-width="1.8"/>
<text transform="translate(74.30,649.30) scale(1,1.120)" font-size="16.7" font-weight="bold" text-anchor="end" fill="#000" >25</text>
<line x1="76.2" y1="607.0" x2="79.7" y2="607.0" stroke="#000" stroke-width="1.8"/>
<text transform="translate(74.30,576.40) scale(1,1.120)" font-size="16.7" font-weight="bold" text-anchor="end" fill="#000" >30</text>
<text transform="translate(327.80,1042.50) scale(1,1.070)" font-size="19" font-weight="bold" text-anchor="middle" fill="#000" >Energy (eV)</text>
<text transform="translate(51.00,789.00) rotate(-90)" font-size="22.5" font-weight="bold" text-anchor="middle" fill="#000" >Total DOS (States/eV)</text>
<g clip-path="url(#clipB)">
<path d="M75.6,1006.9 L80.0,1004.3 L85.1,992.5 L90.5,958.3 L97.2,896.2 L102.7,843.4 L107.7,775.1 L112.4,719.2 L118.4,697.4 L124.5,719.2 L130.8,743.3 L137.2,758.7 L149.1,731.5 L158.2,703.3 L163.7,687.2 L169.7,696.9 L175.2,759.6 L180.0,825.8 L185.7,897.9 L191.5,961.3 L195.8,986.1 L200.8,1001.0 L207.9,1008.0 L237.2,1008.0" fill="none" stroke="#3f0075" stroke-width="2.5" stroke-linejoin="round"/>
<path d="M246.6,1008.0 L256.2,1008.0 L269.7,1008.0 L280.8,1008.0 L287.0,1007.7 L290.9,1007.3 L293.8,1006.7 L296.0,1005.9 L297.2,1004.9 L298.5,1003.6 L300.2,1002.0 L301.9,1000.0 L303.7,997.5 L305.5,994.4 L307.3,990.8 L308.9,987.3 L310.4,983.9 L311.7,980.5 L313.0,977.1 L314.3,973.7 L315.6,970.3 L317.0,966.9 L318.3,963.4 L319.7,960.0 L321.2,956.5 L323.1,952.9 L325.1,949.4 L327.2,946.3 L329.4,944.2 L331.7,942.5 L333.9,940.9 L336.0,939.1 L338.0,937.3 L340.1,935.8 L342.1,934.8 L344.2,934.1 L346.8,933.2 L350.3,932.0 L354.4,930.5 L358.4,928.5 L362.1,925.9 L365.8,922.7 L369.1,919.2 L372.2,916.0 L375.0,912.5 L377.3,907.5 L378.8,899.2 L379.7,889.4 L380.8,882.3 L382.2,880.0 L383.9,880.4 L386.0,881.7 L388.5,883.9 L391.5,887.0 L394.6,889.9 L398.2,892.5 L402.0,894.7 L405.5,895.7 L408.5,894.6 L411.1,892.1 L413.6,889.9 L415.8,888.3 L417.8,886.9 L419.8,886.3 L421.8,886.4 L423.7,887.2 L425.6,888.6 L427.5,890.2 L429.4,892.4 L431.5,895.7 L433.9,900.8 L436.5,907.1 L438.9,913.2 L441.0,919.2 L442.9,925.1 L444.7,929.7 L446.3,932.4 L447.8,933.7 L449.4,934.2 L451.2,934.3 L453.1,933.6 L455.2,931.9 L457.4,929.0 L459.8,925.0 L462.2,920.2 L464.8,914.4 L467.4,907.9 L469.9,901.6 L472.3,896.0 L474.5,890.7 L476.9,885.1 L479.5,878.5 L482.2,871.8 L484.8,866.6 L487.3,864.0 L489.7,862.9 L492.0,862.2 L493.5,861.2 L494.9,860.6 L498.1,860.9 L504.8,863.5 L513.3,867.0 L520.6,868.5 L525.3,866.6 L528.8,862.6 L532.1,857.1 L535.4,849.5 L538.4,840.5 L541.5,832.5 L544.8,825.7 L548.1,819.9 L551.2,817.1 L553.8,818.2 L556.2,822.2 L558.6,828.7 L561.2,838.4 L563.7,850.6 L566.3,862.8 L568.9,875.1 L571.6,887.4 L573.9,897.2 L575.6,903.5 L576.9,907.3 L578.5,908.6 L580.6,907.3 L582.8,903.5 L585.4,897.2 L588.3,887.1 L591.6,874.5 L594.6,862.8 L597.5,852.7 L600.2,843.5 L602.7,836.2 L604.9,831.4 L606.9,828.5 L608.7,826.8 L610.2,826.1 L611.5,826.6 L612.7,827.6 L614.2,829.3 L615.7,831.5 L616.8,833.0" fill="none" stroke="#3f0075" stroke-width="2.5" stroke-linejoin="round"/>
<path d="M75.6,1006.9 L79.8,1004.3 L84.9,992.5 L90.3,958.3 L97.0,896.2 L102.5,843.4 L107.5,775.1 L112.2,719.2 L118.2,697.4 L124.3,719.2 L130.7,742.6 L137.2,757.2 L148.8,716.8 L157.4,675.8 L162.9,650.8 L168.9,661.5 L175.8,737.7 L180.6,825.8 L186.3,897.9 L192.2,961.3 L196.4,986.1 L201.4,1001.0 L208.5,1008.0 L237.2,1008.0" fill="none" stroke="#33007a" stroke-width="2.5" stroke-linejoin="round"/>
<path d="M246.6,1008.0 L256.2,1008.0 L269.7,1008.0 L280.8,1008.0 L287.0,1007.7 L290.9,1007.3 L293.8,1006.7 L296.0,1005.9 L297.2,1004.9 L298.5,1003.6 L300.2,1002.0 L301.9,1000.0 L303.7,997.5 L305.5,994.4 L307.3,990.8 L308.9,987.3 L310.4,983.9 L311.7,980.5 L313.0,977.1 L314.3,973.7 L315.6,970.3 L317.0,966.9 L318.3,963.4 L319.7,960.0 L321.2,956.5 L323.1,952.9 L325.1,949.4 L327.2,946.3 L329.4,944.2 L331.7,942.5 L333.9,940.9 L336.0,939.1 L338.0,937.3 L340.1,935.8 L342.1,934.8 L344.2,934.1 L346.8,933.2 L350.3,932.0 L354.4,930.5 L358.4,928.5 L362.1,925.9 L365.8,922.7 L369.1,919.2 L372.2,916.0 L375.0,912.5 L377.3,907.5 L378.8,899.2 L379.7,889.4 L380.8,882.3 L382.2,880.0 L383.9,880.4 L386.0,881.7 L388.5,883.9 L391.5,887.0 L394.6,889.9 L398.2,892.5 L402.0,894.7 L405.5,895.7 L408.5,894.6 L411.1,892.1 L413.6,889.9 L415.8,888.3 L417.8,886.9 L419.8,886.3 L421.8,886.4 L423.7,887.2 L425.6,888.6 L427.5,890.2 L429.4,892.4 L431.5,895.7 L433.9,900.8 L436.5,907.1 L438.9,913.2 L441.0,919.2 L442.9,925.1 L444.7,929.7 L446.3,932.4 L447.8,933.7 L449.4,934.2 L451.2,934.3 L453.1,933.6 L455.2,931.9 L457.4,929.0 L459.8,925.0 L462.2,920.2 L464.8,914.4 L467.4,907.9 L469.9,901.6 L472.3,896.0 L474.5,890.7 L476.9,885.1 L479.5,878.5 L482.2,871.8 L484.8,866.6 L487.3,864.0 L489.7,862.9 L492.0,862.2 L493.5,861.2 L494.9,860.6 L498.1,860.9 L504.8,863.5 L513.3,867.0 L520.6,868.5 L525.3,866.6 L528.8,862.6 L532.1,857.1 L535.4,849.5 L538.4,840.5 L541.5,832.5 L544.8,825.7 L548.1,819.9 L551.2,817.1 L553.8,818.2 L556.2,822.2 L558.6,828.7 L561.2,838.4 L563.7,850.6 L566.3,862.8 L568.9,875.1 L571.6,887.4 L573.9,897.2 L575.6,903.5 L576.9,907.3 L578.5,908.6 L580.6,907.3 L582.8,903.5 L585.4,897.2 L588.3,887.1 L591.6,874.5 L594.6,862.8 L597.5,852.7 L600.2,843.5 L602.7,836.2 L604.9,831.4 L606.9,828.5 L608.7,826.8 L610.2,826.1 L611.5,826.6 L612.7,827.6 L614.2,829.3 L615.7,831.5 L616.8,833.0" fill="none" stroke="#33007a" stroke-width="2.5" stroke-linejoin="round"/>
<path d="M75.6,1006.9 L79.6,1004.3 L84.7,992.5 L90.1,958.3 L96.8,896.2 L102.3,843.4 L107.3,775.1 L112.0,719.2 L118.0,697.4 L124.1,719.2 L130.6,744.0 L137.2,760.1 L148.8,715.8 L157.4,669.0 L162.9,643.5 L168.9,654.4 L175.8,733.3 L180.6,825.8 L186.3,897.9 L192.2,961.3 L196.4,986.1 L201.4,1001.0 L208.5,1008.0 L237.2,1008.0" fill="none" stroke="#2a007a" stroke-width="2.5" stroke-linejoin="round"/>
<path d="M246.6,1008.0 L256.2,1008.0 L269.7,1008.0 L280.8,1008.0 L287.0,1007.7 L290.9,1007.3 L293.8,1006.7 L296.0,1005.9 L297.2,1004.9 L298.5,1003.6 L300.2,1002.0 L301.9,1000.0 L303.7,997.5 L305.5,994.4 L307.3,990.8 L308.9,987.3 L310.4,983.9 L311.7,980.5 L313.0,977.1 L314.3,973.7 L315.6,970.3 L317.0,966.9 L318.3,963.4 L319.7,960.0 L321.2,956.5 L323.1,952.9 L325.1,949.4 L327.2,946.3 L329.4,944.2 L331.7,942.5 L333.9,940.9 L336.0,939.1 L338.0,937.3 L340.1,935.8 L342.1,934.8 L344.2,934.1 L346.8,933.2 L350.3,932.0 L354.4,930.5 L358.4,928.5 L362.1,925.9 L365.8,922.7 L369.1,919.2 L372.2,916.0 L375.0,912.5 L377.3,907.5 L378.8,899.2 L379.7,889.4 L380.8,882.3 L382.2,880.0 L383.9,880.4 L386.0,881.7 L388.5,883.9 L391.5,887.0 L394.6,889.9 L398.2,892.5 L402.0,894.7 L405.5,895.7 L408.5,894.6 L411.1,892.1 L413.6,889.9 L415.8,888.3 L417.8,886.9 L419.8,886.3 L421.8,886.4 L423.7,887.2 L425.6,888.6 L427.5,890.2 L429.4,892.4 L431.5,895.7 L433.9,900.8 L436.5,907.1 L438.9,913.2 L441.0,919.2 L442.9,925.1 L444.7,929.7 L446.3,932.4 L447.8,933.7 L449.4,934.2 L451.2,934.3 L453.1,933.6 L455.2,931.9 L457.4,929.0 L459.8,925.0 L462.2,920.2 L464.8,914.4 L467.4,907.9 L469.9,901.6 L472.3,896.0 L474.5,890.7 L476.9,885.1 L479.5,878.5 L482.2,871.8 L484.8,866.6 L487.3,864.0 L489.7,862.9 L492.0,862.2 L493.5,861.2 L494.9,860.6 L498.1,860.9 L504.8,863.5 L513.3,867.0 L520.6,868.5 L525.3,866.6 L528.8,862.6 L532.1,857.1 L535.4,849.5 L538.4,840.5 L541.5,832.5 L544.8,825.7 L548.1,819.9 L551.2,817.1 L553.8,818.2 L556.2,822.2 L558.6,828.7 L561.2,838.4 L563.7,850.6 L566.3,862.8 L568.9,875.1 L571.6,887.4 L573.9,897.2 L575.6,903.5 L576.9,907.3 L578.5,908.6 L580.6,907.3 L582.8,903.5 L585.4,897.2 L588.3,887.1 L591.6,874.5 L594.6,862.8 L597.5,852.7 L600.2,843.5 L602.7,836.2 L604.9,831.4 L606.9,828.5 L608.7,826.8 L610.2,826.1 L611.5,826.6 L612.7,827.6 L614.2,829.3 L615.7,831.5 L616.8,833.0" fill="none" stroke="#2a007a" stroke-width="2.5" stroke-linejoin="round"/>
<path d="M75.6,1006.9 L80.0,1004.3 L85.1,992.5 L90.5,958.5 L97.2,896.7 L102.7,844.2 L107.7,776.2 L112.4,720.5 L118.4,698.9 L124.5,720.5 L130.8,744.7 L137.2,760.1 L148.8,714.7 L157.4,666.3 L162.9,640.6 L168.9,651.6 L175.8,731.6 L180.6,825.8 L186.3,897.9 L192.2,961.3 L196.4,986.1 L201.4,1001.0 L208.5,1008.0 L237.2,1008.0" fill="none" stroke="#0c0080" stroke-width="2.5" stroke-linejoin="round"/>
<path d="M246.6,1008.0 L256.2,1008.0 L269.7,1008.0 L280.8,1008.0 L287.0,1007.7 L290.9,1007.3 L293.8,1006.7 L296.0,1005.9 L297.2,1004.9 L298.5,1003.6 L300.2,1002.0 L301.9,1000.0 L303.7,997.5 L305.5,994.4 L307.3,990.8 L308.9,987.3 L310.4,983.9 L311.7,980.5 L313.0,977.1 L314.3,973.7 L315.6,970.3 L317.0,966.9 L318.3,963.4 L319.7,960.0 L321.2,956.5 L323.1,952.9 L325.1,949.4 L327.2,946.3 L329.4,944.2 L331.7,942.5 L333.9,940.9 L336.0,939.1 L338.0,937.3 L340.1,935.8 L342.1,934.8 L344.2,934.1 L346.8,933.2 L350.3,932.0 L354.4,930.5 L358.4,928.5 L362.1,925.9 L365.8,922.7 L369.1,919.2 L372.2,916.0 L375.0,912.5 L377.3,907.5 L378.8,899.2 L379.7,889.4 L380.8,882.3 L382.2,880.0 L383.9,880.4 L386.0,881.7 L388.5,883.9 L391.5,887.0 L394.6,889.9 L398.2,892.5 L402.0,894.7 L405.5,895.7 L408.5,894.6 L411.1,892.1 L413.6,889.9 L415.8,888.3 L417.8,886.9 L419.8,886.3 L421.8,886.4 L423.7,887.2 L425.6,888.6 L427.5,890.2 L429.4,892.4 L431.5,895.7 L433.9,900.8 L436.5,907.1 L438.9,913.2 L441.0,919.2 L442.9,925.1 L444.7,929.7 L446.3,932.4 L447.8,933.7 L449.4,934.2 L451.2,934.3 L453.1,933.6 L455.2,931.9 L457.4,929.0 L459.8,925.0 L462.2,920.2 L464.8,914.4 L467.4,907.9 L469.9,901.6 L472.3,896.0 L474.5,890.7 L476.9,885.1 L479.5,878.5 L482.2,871.8 L484.8,866.6 L487.3,864.0 L489.7,862.9 L492.0,862.2 L493.5,861.2 L494.9,860.6 L498.1,860.9 L504.8,863.5 L513.3,867.0 L520.6,868.5 L525.3,866.6 L528.8,862.6 L532.1,857.1 L535.4,849.5 L538.4,840.5 L541.5,832.5 L544.8,825.7 L548.1,819.9 L551.2,817.1 L553.8,818.2 L556.2,822.2 L558.6,828.7 L561.2,838.4 L563.7,850.6 L566.3,862.8 L568.9,875.1 L571.6,887.4 L573.9,897.2 L575.6,903.5 L576.9,907.3 L578.5,908.6 L580.6,907.3 L582.8,903.5 L585.4,897.2 L588.3,887.1 L591.6,874.5 L594.6,862.8 L597.5,852.7 L600.2,843.5 L602.7,836.2 L604.9,831.4 L606.9,828.5 L608.7,826.8 L610.2,826.1 L611.5,826.6 L612.7,827.6 L614.2,829.3 L615.7,831.5 L616.8,833.0" fill="none" stroke="#0c0080" stroke-width="2.5" stroke-linejoin="round"/>
<path d="M75.6,1006.9 L80.4,1004.3 L85.5,992.6 L91.0,958.8 L97.6,897.3 L103.1,845.0 L108.1,777.3 L112.8,721.9 L118.8,700.4 L124.9,721.9 L131.3,745.4 L137.6,760.1 L148.8,715.8 L157.0,669.0 L162.5,643.5 L168.5,654.4 L176.2,733.3 L181.0,825.8 L186.7,897.9 L192.6,961.3 L196.8,986.1 L201.8,1001.0 L208.9,1008.0 L237.2,1008.0" fill="none" stroke="#0000a8" stroke-width="2.5" stroke-linejoin="round"/>
<path d="M246.6,1008.0 L256.2,1008.0 L269.7,1008.0 L280.8,1008.0 L287.0,1007.7 L290.9,1007.3 L293.8,1006.7 L296.0,1005.9 L297.2,1004.9 L298.5,1003.6 L300.2,1002.0 L301.9,1000.0 L303.7,997.5 L305.5,994.4 L307.3,990.8 L308.9,987.3 L310.4,983.9 L311.7,980.5 L313.0,977.1 L314.3,973.7 L315.6,970.3 L317.0,966.9 L318.3,963.4 L319.7,960.0 L321.2,956.5 L323.1,952.9 L325.1,949.4 L327.2,946.3 L329.4,944.2 L331.7,942.5 L333.9,940.9 L336.0,939.1 L338.0,937.3 L340.1,935.8 L342.1,934.8 L344.2,934.1 L346.8,933.2 L350.3,932.0 L354.4,930.5 L358.4,928.5 L362.1,925.9 L365.8,922.7 L369.1,919.2 L372.2,916.0 L375.0,912.5 L377.3,907.5 L378.8,899.2 L379.7,889.4 L380.8,882.3 L382.2,880.0 L383.9,880.4 L386.0,881.7 L388.5,883.9 L391.5,887.0 L394.6,889.9 L398.2,892.5 L402.0,894.7 L405.5,895.7 L408.5,894.6 L411.1,892.1 L413.6,889.9 L415.8,888.3 L417.8,886.9 L419.8,886.3 L421.8,886.4 L423.7,887.2 L425.6,888.6 L427.5,890.2 L429.4,892.4 L431.5,895.7 L433.9,900.8 L436.5,907.1 L438.9,913.2 L441.0,919.2 L442.9,925.1 L444.7,929.7 L446.3,932.4 L447.8,933.7 L449.4,934.2 L451.2,934.3 L453.1,933.6 L455.2,931.9 L457.4,929.0 L459.8,925.0 L462.2,920.2 L464.8,914.4 L467.4,907.9 L469.9,901.6 L472.3,896.0 L474.5,890.7 L476.9,885.1 L479.5,878.5 L482.2,871.8 L484.8,866.6 L487.3,864.0 L489.7,862.9 L492.0,862.2 L493.5,861.2 L494.9,860.6 L498.1,860.9 L504.8,863.5 L513.3,867.0 L520.6,868.5 L525.3,866.6 L528.8,862.6 L532.1,857.1 L535.4,849.5 L538.4,840.5 L541.5,832.5 L544.8,825.7 L548.1,819.9 L551.2,817.1 L553.8,818.2 L556.2,822.2 L558.6,828.7 L561.2,838.4 L563.7,850.6 L566.3,862.8 L568.9,875.1 L571.6,887.4 L573.9,897.2 L575.6,903.5 L576.9,907.3 L578.5,908.6 L580.6,907.3 L582.8,903.5 L585.4,897.2 L588.3,887.1 L591.6,874.5 L594.6,862.8 L597.5,852.7 L600.2,843.5 L602.7,836.2 L604.9,831.4 L606.9,828.5 L608.7,826.8 L610.2,826.1 L611.5,826.6 L612.7,827.6 L614.2,829.3 L615.7,831.5 L616.8,833.0" fill="none" stroke="#0000a8" stroke-width="2.5" stroke-linejoin="round"/>
<path d="M75.6,1006.9 L82.9,1004.4 L87.9,993.2 L93.4,960.6 L100.0,901.4 L105.5,851.1 L110.5,786.0 L115.2,732.7 L121.3,712.0 L127.3,732.7 L132.8,746.4 L138.2,751.4 L149.1,712.6 L157.0,674.4 L162.5,649.3 L168.5,660.1 L176.2,736.8 L181.0,825.8 L186.7,897.9 L192.6,961.3 L196.8,986.1 L201.8,1001.0 L208.9,1008.0 L237.2,1008.0" fill="none" stroke="#0000d8" stroke-width="2.5" stroke-linejoin="round"/>
<path d="M246.6,1008.0 L256.1,1008.0 L269.5,1008.0 L280.6,1008.0 L286.8,1007.7 L290.7,1007.3 L293.7,1006.7 L295.8,1005.9 L297.1,1004.9 L298.3,1003.6 L300.0,1002.0 L301.8,1000.0 L303.6,997.5 L305.4,994.4 L307.2,990.8 L308.8,987.3 L310.3,983.9 L311.5,980.5 L312.8,977.1 L314.2,973.7 L315.5,970.3 L316.9,966.9 L318.2,963.4 L319.5,960.0 L321.1,956.5 L323.0,952.9 L325.0,949.4 L327.1,946.3 L329.3,944.1 L331.6,942.5 L333.8,940.9 L335.9,939.1 L337.9,937.3 L340.0,935.8 L342.0,934.8 L344.1,934.1 L346.7,933.2 L350.3,931.9 L354.4,930.5 L358.4,928.5 L362.1,925.8 L365.6,922.6 L369.0,919.2 L372.1,916.0 L374.9,912.6 L377.2,907.6 L378.6,899.4 L379.6,889.6 L380.7,882.6 L382.2,880.3 L383.9,880.7 L386.0,882.1 L388.5,884.2 L391.4,887.3 L394.5,890.1 L398.1,892.6 L401.8,894.9 L405.3,895.9 L408.2,894.7 L410.9,892.3 L413.4,890.1 L415.6,888.5 L417.6,887.1 L419.6,886.4 L421.6,886.6 L423.5,887.4 L425.4,888.7 L427.3,890.4 L429.2,892.5 L431.3,895.8 L433.7,900.9 L436.3,907.1 L438.7,913.3 L440.8,919.2 L442.8,925.1 L444.5,929.7 L446.1,932.3 L447.6,933.6 L449.2,934.2 L451.0,934.3 L452.9,933.6 L455.0,931.9 L457.2,928.9 L459.6,925.0 L462.1,920.2 L464.6,914.5 L467.2,907.9 L469.7,901.6 L472.1,896.0 L474.4,890.6 L476.8,885.1 L479.4,878.5 L482.0,871.8 L484.7,866.6 L487.2,864.0 L489.6,862.9 L491.9,862.2 L493.4,861.2 L494.8,860.5 L498.0,860.8 L504.6,863.4 L513.1,866.9 L520.4,868.4 L525.1,866.5 L528.6,862.6 L531.8,857.1 L535.1,849.5 L538.2,840.5 L541.3,832.4 L544.6,825.6 L547.9,819.9 L551.0,817.1 L553.6,818.1 L556.0,822.1 L558.4,828.6 L561.0,838.3 L563.5,850.5 L566.1,862.8 L568.8,875.1 L571.4,887.4 L573.7,897.2 L575.4,903.6 L576.8,907.3 L578.4,908.6 L580.4,907.3 L582.7,903.5 L585.2,897.2 L588.2,887.2 L591.4,874.6 L594.4,862.9 L597.3,852.8 L600.0,843.6 L602.5,836.3 L604.7,831.5 L606.7,828.5 L608.5,826.8 L610.0,826.1 L611.3,826.6 L612.6,827.6 L614.1,829.3 L615.6,831.5 L616.6,833.0" fill="none" stroke="#0000d8" stroke-width="2.5" stroke-linejoin="round"/>
<path d="M75.6,1006.9 L82.9,1004.4 L87.9,993.2 L93.4,960.6 L100.0,901.4 L105.5,851.1 L110.5,786.0 L115.2,732.7 L121.3,712.0 L127.3,732.7 L132.8,746.4 L138.2,751.4 L149.1,714.3 L157.0,678.5 L162.5,653.7 L168.5,664.3 L176.2,739.4 L181.0,825.8 L186.7,897.9 L192.6,961.3 L196.8,986.1 L201.8,1001.0 L208.9,1008.0 L237.2,1008.0" fill="none" stroke="#0000ff" stroke-width="2.5" stroke-linejoin="round"/>
<path d="M246.6,1008.0 L256.1,1008.0 L269.5,1008.0 L280.6,1008.0 L286.8,1007.7 L290.7,1007.3 L293.7,1006.7 L295.8,1005.9 L297.1,1004.9 L298.3,1003.6 L300.0,1002.0 L301.8,1000.0 L303.6,997.5 L305.4,994.4 L307.2,990.8 L308.8,987.3 L310.3,983.9 L311.5,980.5 L312.8,977.1 L314.2,973.7 L315.5,970.3 L316.9,966.9 L318.2,963.4 L319.5,960.0 L321.1,956.5 L323.0,952.9 L325.0,949.4 L327.1,946.3 L329.3,944.1 L331.6,942.5 L333.8,940.9 L335.9,939.1 L337.9,937.3 L340.0,935.8 L342.0,934.8 L344.1,934.1 L346.7,933.2 L350.3,931.9 L354.4,930.5 L358.4,928.5 L362.1,925.8 L365.6,922.6 L369.0,919.2 L372.1,916.0 L374.9,912.6 L377.2,907.6 L378.6,899.4 L379.6,889.6 L380.7,882.6 L382.2,880.3 L383.9,880.7 L386.0,882.1 L388.5,884.2 L391.4,887.3 L394.5,890.1 L398.1,892.6 L401.8,894.9 L405.3,895.9 L408.2,894.7 L410.9,892.3 L413.4,890.1 L415.6,888.5 L417.6,887.1 L419.6,886.4 L421.6,886.6 L423.5,887.4 L425.4,888.7 L427.3,890.4 L429.2,892.5 L431.3,895.8 L433.7,900.9 L436.3,907.1 L438.7,913.3 L440.8,919.2 L442.8,925.1 L444.5,929.7 L446.1,932.3 L447.6,933.6 L449.2,934.2 L451.0,934.3 L452.9,933.6 L455.0,931.9 L457.2,928.9 L459.6,925.0 L462.1,920.2 L464.6,914.5 L467.2,907.9 L469.7,901.6 L472.1,896.0 L474.4,890.6 L476.8,885.1 L479.4,878.5 L482.0,871.8 L484.7,866.6 L487.2,864.0 L489.6,862.9 L491.9,862.2 L493.4,861.2 L494.8,860.5 L498.0,860.8 L504.6,863.4 L513.1,866.9 L520.4,868.4 L525.1,866.5 L528.6,862.6 L531.8,857.1 L535.1,849.5 L538.2,840.5 L541.3,832.4 L544.6,825.6 L547.9,819.9 L551.0,817.1 L553.6,818.1 L556.0,822.1 L558.4,828.6 L561.0,838.3 L563.5,850.5 L566.1,862.8 L568.8,875.1 L571.4,887.4 L573.7,897.2 L575.4,903.6 L576.8,907.3 L578.4,908.6 L580.4,907.3 L582.7,903.5 L585.2,897.2 L588.2,887.2 L591.4,874.6 L594.4,862.9 L597.3,852.8 L600.0,843.6 L602.5,836.3 L604.7,831.5 L606.7,828.5 L608.5,826.8 L610.0,826.1 L611.3,826.6 L612.6,827.6 L614.1,829.3 L615.6,831.5 L616.6,833.0" fill="none" stroke="#0000ff" stroke-width="2.5" stroke-linejoin="round"/>
<path d="M75.6,1006.9 L82.9,1004.4 L87.9,993.2 L93.4,960.6 L100.0,901.4 L105.5,851.1 L110.5,786.0 L115.2,732.7 L121.3,712.0 L127.3,732.7 L132.8,746.4 L138.2,751.4 L149.1,710.4 L157.0,669.0 L162.5,643.5 L168.5,654.4 L176.2,733.3 L181.0,825.8 L186.7,897.9 L192.6,961.3 L196.8,986.1 L201.8,1001.0 L208.9,1008.0 L237.2,1008.0" fill="none" stroke="#0a28e0" stroke-width="2.5" stroke-linejoin="round"/>
<path d="M246.6,1008.0 L256.1,1008.0 L269.5,1008.0 L280.6,1008.0 L286.8,1007.7 L290.7,1007.3 L293.7,1006.7 L295.8,1005.9 L297.1,1004.9 L298.3,1003.6 L300.0,1002.0 L301.8,1000.0 L303.6,997.5 L305.4,994.4 L307.2,990.8 L308.8,987.3 L310.3,983.9 L311.5,980.5 L312.8,977.1 L314.2,973.7 L315.5,970.3 L316.9,966.9 L318.2,963.4 L319.5,960.0 L321.1,956.5 L323.0,952.9 L325.0,949.4 L327.1,946.3 L329.3,944.1 L331.6,942.5 L333.8,940.9 L335.9,939.1 L337.9,937.3 L340.0,935.8 L342.0,934.8 L344.1,934.1 L346.7,933.2 L350.3,931.9 L354.4,930.5 L358.4,928.5 L362.1,925.8 L365.6,922.6 L369.0,919.2 L372.1,916.0 L374.9,912.6 L377.2,907.6 L378.6,899.4 L379.6,889.6 L380.7,882.6 L382.2,880.3 L383.9,880.7 L386.0,882.1 L388.5,884.2 L391.4,887.3 L394.5,890.1 L398.1,892.6 L401.8,894.9 L405.3,895.9 L408.2,894.7 L410.9,892.3 L413.4,890.1 L415.6,888.5 L417.6,887.1 L419.6,886.4 L421.6,886.6 L423.5,887.4 L425.4,888.7 L427.3,890.4 L429.2,892.5 L431.3,895.8 L433.7,900.9 L436.3,907.1 L438.7,913.3 L440.8,919.2 L442.8,925.1 L444.5,929.7 L446.1,932.3 L447.6,933.6 L449.2,934.2 L451.0,934.3 L452.9,933.6 L455.0,931.9 L457.2,928.9 L459.6,925.0 L462.1,920.2 L464.6,914.5 L467.2,907.9 L469.7,901.6 L472.1,896.0 L474.4,890.6 L476.8,885.1 L479.4,878.5 L482.0,871.8 L484.7,866.6 L487.2,864.0 L489.6,862.9 L491.9,862.2 L493.4,861.2 L494.8,860.5 L498.0,860.8 L504.6,863.4 L513.1,866.9 L520.4,868.4 L525.1,866.5 L528.6,862.6 L531.8,857.1 L535.1,849.5 L538.2,840.5 L541.3,832.4 L544.6,825.6 L547.9,819.9 L551.0,817.1 L553.6,818.1 L556.0,822.1 L558.4,828.6 L561.0,838.3 L563.5,850.5 L566.1,862.8 L568.8,875.1 L571.4,887.4 L573.7,897.2 L575.4,903.6 L576.8,907.3 L578.4,908.6 L580.4,907.3 L582.7,903.5 L585.2,897.2 L588.2,887.2 L591.4,874.6 L594.4,862.9 L597.3,852.8 L600.0,843.6 L602.5,836.3 L604.7,831.5 L606.7,828.5 L608.5,826.8 L610.0,826.1 L611.3,826.6 L612.6,827.6 L614.1,829.3 L615.6,831.5 L616.6,833.0" fill="none" stroke="#0a28e0" stroke-width="2.5" stroke-linejoin="round"/>
<path d="M75.6,1005.8 L80.2,998.5 L84.7,978.8 L88.3,958.4 L93.6,897.9 L97.2,853.5 L100.8,789.3 L106.5,680.0 L109.3,639.1 L115.4,611.4 L121.5,640.6 L125.3,680.0 L128.5,713.5 L135.6,739.7 L142.3,728.1 L149.5,693.1 L153.2,658.1 L158.2,610.0 L163.7,575.0 L169.7,585.2 L176.0,658.1 L178.6,710.6 L181.0,782.0 L184.7,876.8 L188.7,938.0 L192.8,974.5 L196.8,994.9 L201.8,1004.4 L206.9,1008.0 L237.2,1008.0" fill="none" stroke="#150070" stroke-width="2.5" stroke-linejoin="round"/>
<path d="M246.6,1008.0 L256.2,1008.0 L269.7,1008.0 L280.8,1008.0 L287.0,1007.7 L290.9,1007.3 L293.8,1006.7 L296.0,1005.9 L297.2,1004.9 L298.5,1003.6 L300.2,1002.0 L301.9,1000.0 L303.7,997.5 L305.5,994.4 L307.3,990.8 L308.9,987.3 L310.4,983.9 L311.7,980.5 L313.0,977.1 L314.3,973.7 L315.6,970.3 L317.0,966.9 L318.3,963.4 L319.7,960.0 L321.2,956.5 L323.1,952.9 L325.1,949.4 L327.2,946.3 L329.4,944.2 L331.7,942.5 L333.9,940.9 L336.0,939.1 L338.0,937.3 L340.1,935.8 L342.1,934.8 L344.2,934.1 L346.8,933.2 L350.3,932.0 L354.4,930.5 L358.4,928.5 L362.1,925.9 L365.8,922.7 L369.1,919.2 L372.2,916.0 L375.0,912.5 L377.3,907.5 L378.8,899.2 L379.7,889.4 L380.8,882.3 L382.2,880.0 L383.9,880.4 L386.0,881.7 L388.5,883.9 L391.5,887.0 L394.6,889.9 L398.2,892.5 L402.0,894.7 L405.5,895.7 L408.5,894.6 L411.1,892.1 L413.6,889.9 L415.8,888.3 L417.8,886.9 L419.8,886.3 L421.8,886.4 L423.7,887.2 L425.6,888.6 L427.5,890.2 L429.4,892.4 L431.5,895.7 L433.9,900.8 L436.5,907.1 L438.9,913.2 L441.0,919.2 L442.9,925.1 L444.7,929.7 L446.3,932.4 L447.8,933.7 L449.4,934.2 L451.2,934.3 L453.1,933.6 L455.2,931.9 L457.4,929.0 L459.8,925.0 L462.2,920.2 L464.8,914.4 L467.4,907.9 L469.9,901.6 L472.3,896.0 L474.5,890.7 L476.9,885.1 L479.5,878.5 L482.2,871.8 L484.8,866.6 L487.3,864.0 L489.7,862.9 L492.0,862.2 L493.5,861.2 L494.9,860.6 L498.1,860.9 L504.8,863.5 L513.3,867.0 L520.6,868.5 L525.3,866.6 L528.8,862.6 L532.1,857.1 L535.4,849.5 L538.4,840.5 L541.5,832.5 L544.8,825.7 L548.1,819.9 L551.2,817.1 L553.8,818.2 L556.2,822.2 L558.6,828.7 L561.2,838.4 L563.7,850.6 L566.3,862.8 L568.9,875.1 L571.6,887.4 L573.9,897.2 L575.6,903.5 L576.9,907.3 L578.5,908.6 L580.6,907.3 L582.8,903.5 L585.4,897.2 L588.3,887.1 L591.6,874.5 L594.6,862.8 L597.5,852.7 L600.2,843.5 L602.7,836.2 L604.9,831.4 L606.9,828.5 L608.7,826.8 L610.2,826.1 L611.5,826.6 L612.7,827.6 L614.2,829.3 L615.7,831.5 L616.8,833.0" fill="none" stroke="#150070" stroke-width="2.5" stroke-linejoin="round"/>
<path d="M75.6,1006.9 L82.9,1004.4 L87.9,993.1 L93.4,960.4 L100.0,900.9 L105.5,850.4 L110.5,784.9 L115.2,731.4 L121.3,710.6 L127.3,731.4 L132.8,746.5 L138.2,752.9 L149.1,706.9 L157.0,658.2 L162.5,631.8 L168.5,643.1 L176.2,726.3 L181.0,825.8 L186.7,897.9 L192.6,961.3 L196.8,986.1 L201.8,1001.0 L208.9,1008.0 L237.2,1008.0" fill="none" stroke="#04508c" stroke-width="2.5" stroke-linejoin="round"/>
<path d="M246.6,1008.0 L254.9,1008.0 L266.7,1008.0 L276.6,1008.0 L282.8,1007.7 L287.2,1007.3 L290.6,1006.7 L292.9,1005.9 L294.3,1004.9 L295.7,1003.6 L297.6,1002.0 L299.5,1000.0 L301.4,997.5 L303.2,994.4 L305.0,990.8 L306.7,987.3 L308.1,983.9 L309.4,980.5 L310.7,977.1 L312.0,973.7 L313.4,970.3 L314.7,966.9 L316.1,963.4 L317.5,960.0 L319.1,956.5 L320.9,953.0 L323.0,949.4 L325.1,946.3 L327.3,943.9 L329.6,942.0 L331.9,940.1 L334.0,938.3 L336.1,936.5 L338.3,935.0 L340.6,934.0 L342.9,933.2 L345.7,932.2 L349.2,930.9 L353.1,929.5 L356.9,927.7 L360.4,925.2 L363.7,922.3 L366.8,919.2 L369.6,916.3 L372.1,913.1 L374.4,908.8 L376.3,901.9 L378.0,894.0 L379.8,888.2 L381.5,886.4 L383.3,886.9 L385.2,888.0 L387.5,889.6 L389.9,891.9 L392.5,894.0 L395.2,895.9 L398.0,897.6 L400.8,898.2 L403.8,897.1 L406.9,895.0 L409.7,893.1 L412.0,891.7 L414.2,890.5 L416.2,889.9 L418.1,889.9 L420.0,890.5 L421.8,891.5 L423.6,892.9 L425.4,894.8 L427.4,897.8 L429.8,902.5 L432.5,908.3 L435.0,913.9 L437.1,919.4 L439.0,924.8 L440.8,929.0 L442.4,931.4 L443.9,932.6 L445.5,933.2 L447.3,933.4 L449.2,932.9 L451.2,931.3 L453.5,928.6 L456.0,924.9 L458.6,920.3 L461.3,914.6 L464.2,908.0 L466.9,901.6 L469.4,895.9 L471.8,890.4 L474.3,884.8 L476.9,878.5 L479.6,872.1 L482.2,867.0 L484.7,864.1 L487.2,862.5 L489.7,861.3 L491.4,860.1 L493.1,859.3 L496.3,859.6 L502.5,862.0 L510.3,865.5 L516.9,867.1 L521.2,865.7 L524.3,862.4 L527.4,857.3 L530.8,849.6 L534.2,840.1 L537.6,831.8 L541.0,824.9 L544.3,819.1 L547.4,816.2 L550.1,817.1 L552.5,820.9 L555.0,827.4 L557.6,837.3 L560.2,850.0 L562.8,862.6 L565.5,875.2 L568.2,887.7 L570.5,897.6 L572.4,903.9 L573.9,907.5 L575.6,908.7 L577.6,907.3 L579.8,903.4 L582.2,897.2 L584.8,887.8 L587.7,876.0 L590.5,864.8 L593.2,854.5 L596.0,844.8 L598.5,837.0 L600.9,831.9 L603.2,828.8 L605.2,826.9 L606.9,826.2 L608.4,826.6 L609.8,827.6 L611.3,829.3 L612.8,831.5 L613.8,833.0" fill="none" stroke="#04508c" stroke-width="2.5" stroke-linejoin="round"/>
<path d="M75.6,1006.9 L82.5,1004.5 L87.5,993.3 L93.0,960.9 L99.6,902.0 L105.1,851.9 L110.1,787.1 L114.8,734.1 L120.8,713.5 L126.9,734.1 L133.6,755.1 L140.2,767.4 L150.4,723.7 L157.4,677.2 L162.9,652.2 L168.9,662.9 L176.6,738.6 L181.4,825.8 L187.1,897.9 L193.0,961.3 L197.2,986.1 L202.3,1001.0 L209.3,1008.0 L237.2,1008.0" fill="none" stroke="#08884a" stroke-width="2.5" stroke-linejoin="round"/>
<path d="M246.6,1008.0 L254.9,1008.0 L266.7,1008.0 L276.6,1008.0 L282.8,1007.7 L287.2,1007.3 L290.6,1006.7 L292.9,1005.9 L294.3,1004.9 L295.7,1003.6 L297.6,1002.0 L299.5,1000.0 L301.4,997.5 L303.2,994.4 L305.0,990.8 L306.7,987.3 L308.1,983.9 L309.4,980.5 L310.7,977.1 L312.0,973.7 L313.4,970.3 L314.7,966.9 L316.1,963.4 L317.5,960.0 L319.1,956.5 L320.9,953.0 L323.0,949.4 L325.1,946.3 L327.3,943.9 L329.6,942.0 L331.9,940.1 L334.0,938.3 L336.1,936.5 L338.3,935.0 L340.6,934.0 L342.9,933.2 L345.7,932.2 L349.2,930.9 L353.1,929.5 L356.9,927.7 L360.4,925.2 L363.7,922.3 L366.8,919.2 L369.6,916.3 L372.1,913.1 L374.4,908.8 L376.3,901.9 L378.0,894.0 L379.8,888.2 L381.5,886.4 L383.3,886.9 L385.2,888.0 L387.5,889.6 L389.9,891.9 L392.5,894.0 L395.2,895.9 L398.0,897.6 L400.8,898.2 L403.8,897.1 L406.9,895.0 L409.7,893.1 L412.0,891.7 L414.2,890.5 L416.2,889.9 L418.1,889.9 L420.0,890.5 L421.8,891.5 L423.6,892.9 L425.4,894.8 L427.4,897.8 L429.8,902.5 L432.5,908.3 L435.0,913.9 L437.1,919.4 L439.0,924.8 L440.8,929.0 L442.4,931.4 L443.9,932.6 L445.5,933.2 L447.3,933.4 L449.2,932.9 L451.2,931.3 L453.5,928.6 L456.0,924.9 L458.6,920.3 L461.3,914.6 L464.2,908.0 L466.9,901.6 L469.4,895.9 L471.8,890.4 L474.3,884.8 L476.9,878.5 L479.6,872.1 L482.2,867.0 L484.7,864.1 L487.2,862.5 L489.7,861.3 L491.4,860.1 L493.1,859.3 L496.3,859.6 L502.5,862.0 L510.3,865.5 L516.9,867.1 L521.2,865.7 L524.3,862.4 L527.4,857.3 L530.8,849.6 L534.2,840.1 L537.6,831.8 L541.0,824.9 L544.3,819.1 L547.4,816.2 L550.1,817.1 L552.5,820.9 L555.0,827.4 L557.6,837.3 L560.2,850.0 L562.8,862.6 L565.5,875.2 L568.2,887.7 L570.5,897.6 L572.4,903.9 L573.9,907.5 L575.6,908.7 L577.6,907.3 L579.8,903.4 L582.2,897.2 L584.8,887.8 L587.7,876.0 L590.5,864.8 L593.2,854.5 L596.0,844.8 L598.5,837.0 L600.9,831.9 L603.2,828.8 L605.2,826.9 L606.9,826.2 L608.4,826.6 L609.8,827.6 L611.3,829.3 L612.8,831.5 L613.8,833.0" fill="none" stroke="#08884a" stroke-width="2.5" stroke-linejoin="round"/>
<path d="M75.6,1007.1 L87.7,1005.0 L92.8,995.7 L98.2,968.6 L104.9,919.3 L110.3,877.4 L115.4,823.2 L120.0,778.8 L126.1,761.6 L132.2,778.8 L137.4,784.1 L142.7,780.6 L151.6,752.9 L157.0,722.7 L162.5,707.7 L168.5,716.7 L177.2,771.8 L182.1,825.8 L187.7,897.9 L193.6,961.3 L197.8,986.1 L202.9,1001.0 L209.9,1008.0 L237.2,1008.0" fill="none" stroke="#40d000" stroke-width="2.5" stroke-linejoin="round"/>
<path d="M246.6,1008.0 L254.9,1008.0 L266.7,1008.0 L276.6,1008.0 L282.8,1007.7 L287.2,1007.3 L290.6,1006.7 L292.9,1005.9 L294.3,1004.9 L295.7,1003.6 L297.6,1002.0 L299.5,1000.0 L301.4,997.5 L303.2,994.4 L305.0,990.8 L306.7,987.3 L308.1,983.9 L309.4,980.5 L310.7,977.1 L312.0,973.7 L313.4,970.3 L314.7,966.9 L316.1,963.4 L317.5,960.0 L319.1,956.5 L320.9,953.0 L323.0,949.4 L325.1,946.3 L327.3,943.9 L329.6,942.0 L331.9,940.1 L334.0,938.3 L336.1,936.5 L338.3,935.0 L340.6,934.0 L342.9,933.2 L345.7,932.2 L349.2,930.9 L353.1,929.5 L356.9,927.7 L360.4,925.2 L363.7,922.3 L366.8,919.2 L369.6,916.3 L372.1,913.1 L374.4,908.8 L376.3,901.9 L378.0,894.0 L379.8,888.2 L381.5,886.4 L383.3,886.9 L385.2,888.0 L387.5,889.6 L389.9,891.9 L392.5,894.0 L395.2,895.9 L398.0,897.6 L400.8,898.2 L403.8,897.1 L406.9,895.0 L409.7,893.1 L412.0,891.7 L414.2,890.5 L416.2,889.9 L418.1,889.9 L420.0,890.5 L421.8,891.5 L423.6,892.9 L425.4,894.8 L427.4,897.8 L429.8,902.5 L432.5,908.3 L435.0,913.9 L437.1,919.4 L439.0,924.8 L440.8,929.0 L442.4,931.4 L443.9,932.6 L445.5,933.2 L447.3,933.4 L449.2,932.9 L451.2,931.3 L453.5,928.6 L456.0,924.9 L458.6,920.3 L461.3,914.6 L464.2,908.0 L466.9,901.6 L469.4,895.9 L471.8,890.4 L474.3,884.8 L476.9,878.5 L479.6,872.1 L482.2,867.0 L484.7,864.1 L487.2,862.5 L489.7,861.3 L491.4,860.1 L493.1,859.3 L496.3,859.6 L502.5,862.0 L510.3,865.5 L516.9,867.1 L521.2,865.7 L524.3,862.4 L527.4,857.3 L530.8,849.6 L534.2,840.1 L537.6,831.8 L541.0,824.9 L544.3,819.1 L547.4,816.2 L550.1,817.1 L552.5,820.9 L555.0,827.4 L557.6,837.3 L560.2,850.0 L562.8,862.6 L565.5,875.2 L568.2,887.7 L570.5,897.6 L572.4,903.9 L573.9,907.5 L575.6,908.7 L577.6,907.3 L579.8,903.4 L582.2,897.2 L584.8,887.8 L587.7,876.0 L590.5,864.8 L593.2,854.5 L596.0,844.8 L598.5,837.0 L600.9,831.9 L603.2,828.8 L605.2,826.9 L606.9,826.2 L608.4,826.6 L609.8,827.6 L611.3,829.3 L612.8,831.5 L613.8,833.0" fill="none" stroke="#40d000" stroke-width="2.5" stroke-linejoin="round"/>
<path d="M75.6,1007.0 L82.3,1004.6 L87.3,993.7 L92.8,962.3 L99.4,905.1 L104.9,856.5 L109.9,793.7 L114.6,742.2 L120.6,722.2 L126.7,742.2 L134.8,766.5 L142.9,782.0 L152.1,740.5 L158.0,696.1 L163.5,672.7 L169.5,682.7 L176.8,750.8 L181.7,825.8 L187.3,897.9 L193.2,961.3 L197.4,986.1 L202.5,1001.0 L209.5,1008.0 L237.2,1008.0" fill="none" stroke="#10c010" stroke-width="2.5" stroke-linejoin="round"/>
<path d="M246.6,1008.0 L254.9,1008.0 L266.7,1008.0 L276.6,1008.0 L282.8,1007.7 L287.2,1007.3 L290.6,1006.7 L292.9,1005.9 L294.3,1004.9 L295.7,1003.6 L297.6,1002.0 L299.5,1000.0 L301.4,997.5 L303.2,994.4 L305.0,990.8 L306.7,987.3 L308.1,983.9 L309.4,980.5 L310.7,977.1 L312.0,973.7 L313.4,970.3 L314.7,966.9 L316.1,963.4 L317.5,960.0 L319.1,956.5 L320.9,953.0 L323.0,949.4 L325.1,946.3 L327.3,943.9 L329.6,942.0 L331.9,940.1 L334.0,938.3 L336.1,936.5 L338.3,935.0 L340.6,934.0 L342.9,933.2 L345.7,932.2 L349.2,930.9 L353.1,929.5 L356.9,927.7 L360.4,925.2 L363.7,922.3 L366.8,919.2 L369.6,916.3 L372.1,913.1 L374.4,908.8 L376.3,901.9 L378.0,894.0 L379.8,888.2 L381.5,886.4 L383.3,886.9 L385.2,888.0 L387.5,889.6 L389.9,891.9 L392.5,894.0 L395.2,895.9 L398.0,897.6 L400.8,898.2 L403.8,897.1 L406.9,895.0 L409.7,893.1 L412.0,891.7 L414.2,890.5 L416.2,889.9 L418.1,889.9 L420.0,890.5 L421.8,891.5 L423.6,892.9 L425.4,894.8 L427.4,897.8 L429.8,902.5 L432.5,908.3 L435.0,913.9 L437.1,919.4 L439.0,924.8 L440.8,929.0 L442.4,931.4 L443.9,932.6 L445.5,933.2 L447.3,933.4 L449.2,932.9 L451.2,931.3 L453.5,928.6 L456.0,924.9 L458.6,920.3 L461.3,914.6 L464.2,908.0 L466.9,901.6 L469.4,895.9 L471.8,890.4 L474.3,884.8 L476.9,878.5 L479.6,872.1 L482.2,867.0 L484.7,864.1 L487.2,862.5 L489.7,861.3 L491.4,860.1 L493.1,859.3 L496.3,859.6 L502.5,862.0 L510.3,865.5 L516.9,867.1 L521.2,865.7 L524.3,862.4 L527.4,857.3 L530.8,849.6 L534.2,840.1 L537.6,831.8 L541.0,824.9 L544.3,819.1 L547.4,816.2 L550.1,817.1 L552.5,820.9 L555.0,827.4 L557.6,837.3 L560.2,850.0 L562.8,862.6 L565.5,875.2 L568.2,887.7 L570.5,897.6 L572.4,903.9 L573.9,907.5 L575.6,908.7 L577.6,907.3 L579.8,903.4 L582.2,897.2 L584.8,887.8 L587.7,876.0 L590.5,864.8 L593.2,854.5 L596.0,844.8 L598.5,837.0 L600.9,831.9 L603.2,828.8 L605.2,826.9 L606.9,826.2 L608.4,826.6 L609.8,827.6 L611.3,829.3 L612.8,831.5 L613.8,833.0" fill="none" stroke="#10c010" stroke-width="2.5" stroke-linejoin="round"/>
<path d="M75.6,1007.1 L87.9,1005.0 L93.0,995.7 L98.4,968.6 L105.1,919.3 L110.5,877.4 L115.6,823.2 L120.2,778.8 L126.3,761.6 L132.4,778.8 L137.4,783.3 L142.5,779.1 L152.4,735.9 L159.0,689.4 L164.5,665.4 L170.5,675.6 L177.4,746.4 L182.3,825.8 L187.9,897.9 L193.8,961.3 L198.0,986.1 L203.1,1001.0 L210.1,1008.0 L237.2,1008.0" fill="none" stroke="#90e000" stroke-width="2.5" stroke-linejoin="round"/>
<path d="M246.6,1008.0 L253.7,1008.0 L263.7,1008.0 L272.5,1008.0 L278.6,1007.7 L283.5,1007.3 L287.3,1006.7 L289.9,1005.9 L291.4,1004.9 L293.0,1003.6 L295.0,1002.0 L297.1,1000.0 L299.1,997.5 L301.0,994.4 L302.8,990.8 L304.4,987.3 L305.9,983.9 L307.2,980.5 L308.5,977.1 L309.8,973.7 L311.1,970.3 L312.5,966.9 L313.9,963.4 L315.3,960.0 L316.9,956.5 L318.8,953.0 L320.8,949.5 L323.0,946.3 L325.2,943.7 L327.5,941.4 L329.9,939.3 L332.1,937.4 L334.2,935.7 L336.6,934.2 L339.1,933.1 L341.7,932.2 L344.6,931.1 L348.1,929.9 L351.8,928.6 L355.4,926.8 L358.6,924.6 L361.7,922.0 L364.5,919.2 L366.9,916.5 L369.2,913.6 L371.4,910.0 L373.9,904.6 L376.4,898.5 L378.7,894.2 L380.8,892.9 L382.6,893.4 L384.5,894.3 L386.4,895.3 L388.4,896.7 L390.4,898.0 L392.2,899.3 L394.0,900.4 L396.2,900.7 L399.2,899.7 L402.6,897.9 L405.7,896.2 L408.3,895.1 L410.5,894.1 L412.6,893.5 L414.5,893.4 L416.2,893.7 L417.9,894.5 L419.6,895.6 L421.3,897.2 L423.3,899.9 L425.8,904.1 L428.6,909.4 L431.1,914.6 L433.2,919.6 L435.1,924.5 L436.9,928.2 L438.6,930.5 L440.1,931.6 L441.7,932.2 L443.4,932.4 L445.2,932.1 L447.3,930.8 L449.6,928.3 L452.2,924.8 L454.9,920.4 L457.9,914.7 L461.0,908.0 L464.0,901.6 L466.6,895.7 L469.1,890.1 L471.6,884.5 L474.2,878.4 L476.9,872.4 L479.6,867.4 L482.2,864.2 L484.8,862.1 L487.3,860.5 L489.3,859.0 L491.3,858.1 L494.5,858.2 L500.2,860.6 L507.3,864.0 L513.3,865.6 L517.0,864.8 L519.8,862.2 L522.7,857.5 L526.3,849.7 L530.1,839.8 L533.7,831.1 L537.2,824.1 L540.5,818.2 L543.6,815.3 L546.4,816.0 L548.9,819.6 L551.4,826.1 L554.0,836.3 L556.7,849.4 L559.3,862.4 L562.0,875.3 L564.7,888.1 L567.2,898.0 L569.1,904.3 L570.8,907.7 L572.6,908.7 L574.6,907.2 L576.8,903.3 L579.0,897.2 L581.3,888.4 L583.8,877.5 L586.4,866.7 L589.0,856.3 L591.8,846.0 L594.4,837.8 L596.9,832.4 L599.4,829.1 L601.6,827.0 L603.5,826.2 L605.3,826.7 L606.8,827.6 L608.4,829.3 L609.9,831.5 L610.9,833.0" fill="none" stroke="#90e000" stroke-width="2.5" stroke-linejoin="round"/>
<path d="M75.6,1007.1 L87.9,1005.0 L93.0,995.6 L98.4,968.3 L105.1,918.8 L110.5,876.6 L115.6,822.1 L120.2,777.5 L126.3,760.1 L132.4,777.5 L137.3,781.9 L142.3,777.6 L153.8,727.2 L162.5,670.4 L167.9,645.0 L174.0,655.8 L177.6,734.2 L182.5,825.8 L188.1,897.9 L194.0,961.3 L198.2,986.1 L203.3,1001.0 L210.3,1008.0 L237.2,1008.0" fill="none" stroke="#d0f000" stroke-width="2.5" stroke-linejoin="round"/>
<path d="M246.6,1008.0 L253.7,1008.0 L263.7,1008.0 L272.5,1008.0 L278.6,1007.7 L283.5,1007.3 L287.3,1006.7 L289.9,1005.9 L291.4,1004.9 L293.0,1003.6 L295.0,1002.0 L297.1,1000.0 L299.1,997.5 L301.0,994.4 L302.8,990.8 L304.4,987.3 L305.9,983.9 L307.2,980.5 L308.5,977.1 L309.8,973.7 L311.1,970.3 L312.5,966.9 L313.9,963.4 L315.3,960.0 L316.9,956.5 L318.8,953.0 L320.8,949.5 L323.0,946.3 L325.2,943.7 L327.5,941.4 L329.9,939.3 L332.1,937.4 L334.2,935.7 L336.6,934.2 L339.1,933.1 L341.7,932.2 L344.6,931.1 L348.1,929.9 L351.8,928.6 L355.4,926.8 L358.6,924.6 L361.7,922.0 L364.5,919.2 L366.9,916.5 L369.2,913.6 L371.4,910.0 L373.9,904.6 L376.4,898.5 L378.7,894.2 L380.8,892.9 L382.6,893.4 L384.5,894.3 L386.4,895.3 L388.4,896.7 L390.4,898.0 L392.2,899.3 L394.0,900.4 L396.2,900.7 L399.2,899.7 L402.6,897.9 L405.7,896.2 L408.3,895.1 L410.5,894.1 L412.6,893.5 L414.5,893.4 L416.2,893.7 L417.9,894.5 L419.6,895.6 L421.3,897.2 L423.3,899.9 L425.8,904.1 L428.6,909.4 L431.1,914.6 L433.2,919.6 L435.1,924.5 L436.9,928.2 L438.6,930.5 L440.1,931.6 L441.7,932.2 L443.4,932.4 L445.2,932.1 L447.3,930.8 L449.6,928.3 L452.2,924.8 L454.9,920.4 L457.9,914.7 L461.0,908.0 L464.0,901.6 L466.6,895.7 L469.1,890.1 L471.6,884.5 L474.2,878.4 L476.9,872.4 L479.6,867.4 L482.2,864.2 L484.8,862.1 L487.3,860.5 L489.3,859.0 L491.3,858.1 L494.5,858.2 L500.2,860.6 L507.3,864.0 L513.3,865.6 L517.0,864.8 L519.8,862.2 L522.7,857.5 L526.3,849.7 L530.1,839.8 L533.7,831.1 L537.2,824.1 L540.5,818.2 L543.6,815.3 L546.4,816.0 L548.9,819.6 L551.4,826.1 L554.0,836.3 L556.7,849.4 L559.3,862.4 L562.0,875.3 L564.7,888.1 L567.2,898.0 L569.1,904.3 L570.8,907.7 L572.6,908.7 L574.6,907.2 L576.8,903.3 L579.0,897.2 L581.3,888.4 L583.8,877.5 L586.4,866.7 L589.0,856.3 L591.8,846.0 L594.4,837.8 L596.9,832.4 L599.4,829.1 L601.6,827.0 L603.5,826.2 L605.3,826.7 L606.8,827.6 L608.4,829.3 L609.9,831.5 L610.9,833.0" fill="none" stroke="#d0f000" stroke-width="2.5" stroke-linejoin="round"/>
<path d="M75.6,1007.1 L87.7,1005.0 L92.8,995.7 L98.2,968.6 L104.9,919.3 L110.3,877.4 L115.4,823.2 L120.0,778.8 L126.1,761.6 L132.2,778.8 L137.2,782.6 L142.3,777.6 L152.7,737.7 L160.0,696.1 L165.5,672.7 L171.5,682.7 L177.4,750.8 L182.3,825.8 L187.9,897.9 L193.8,961.3 L198.0,986.1 L203.1,1001.0 L210.1,1008.0 L237.2,1008.0" fill="none" stroke="#ffff00" stroke-width="2.5" stroke-linejoin="round"/>
<path d="M246.6,1008.0 L252.9,1008.0 L261.9,1008.0 L270.0,1008.0 L276.1,1007.7 L281.2,1007.3 L285.4,1006.7 L288.1,1005.9 L289.7,1004.9 L291.4,1003.6 L293.5,1002.0 L295.7,1000.0 L297.7,997.5 L299.6,994.4 L301.4,990.8 L303.1,987.3 L304.5,983.9 L305.8,980.5 L307.1,977.1 L308.4,973.7 L309.8,970.3 L311.1,966.9 L312.6,963.4 L314.0,960.0 L315.7,956.5 L317.5,953.0 L319.6,949.5 L321.7,946.3 L324.0,943.5 L326.3,941.0 L328.6,938.8 L330.9,936.9 L333.1,935.2 L335.5,933.7 L338.1,932.5 L341.0,931.6 L344.0,930.5 L347.4,929.3 L351.0,928.0 L354.4,926.3 L357.5,924.2 L360.4,921.8 L363.1,919.2 L365.4,916.7 L367.4,914.0 L369.6,910.8 L372.4,906.3 L375.4,901.2 L378.1,897.7 L380.3,896.7 L382.2,897.3 L384.0,898.0 L385.8,898.7 L387.5,899.6 L389.1,900.5 L390.4,901.3 L391.5,902.1 L393.4,902.2 L396.4,901.2 L400.1,899.6 L403.4,898.2 L406.0,897.1 L408.3,896.3 L410.4,895.7 L412.3,895.5 L414.0,895.7 L415.6,896.3 L417.3,897.2 L418.9,898.7 L420.8,901.1 L423.4,905.1 L426.2,910.1 L428.8,915.0 L430.9,919.7 L432.8,924.3 L434.6,927.8 L436.2,929.9 L437.8,931.0 L439.4,931.5 L441.1,931.9 L442.9,931.6 L444.9,930.4 L447.3,928.1 L449.9,924.8 L452.7,920.5 L455.8,914.8 L459.1,908.1 L462.2,901.6 L464.9,895.7 L467.5,890.0 L470.0,884.3 L472.7,878.4 L475.3,872.5 L478.0,867.7 L480.7,864.3 L483.3,861.8 L485.9,860.0 L488.0,858.4 L490.2,857.4 L493.4,857.4 L498.9,859.7 L505.5,863.0 L511.1,864.8 L514.6,864.2 L517.1,862.0 L519.9,857.7 L523.6,849.7 L527.6,839.6 L531.4,830.7 L534.9,823.6 L538.2,817.7 L541.3,814.8 L544.1,815.4 L546.7,818.9 L549.2,825.3 L551.9,835.7 L554.5,849.1 L557.2,862.3 L559.9,875.3 L562.7,888.2 L565.1,898.3 L567.2,904.5 L569.0,907.9 L570.8,908.8 L572.9,907.2 L574.9,903.2 L577.1,897.2 L579.2,888.8 L581.5,878.4 L583.9,867.9 L586.5,857.4 L589.2,846.8 L591.9,838.3 L594.5,832.7 L597.1,829.3 L599.5,827.1 L601.5,826.2 L603.4,826.7 L605.1,827.6 L606.7,829.3 L608.1,831.5 L609.1,833.0" fill="none" stroke="#ffff00" stroke-width="2.5" stroke-linejoin="round"/>
<path d="M75.6,1007.0 L82.7,1004.6 L87.7,994.0 L93.2,963.2 L99.8,907.2 L105.3,859.6 L110.3,798.0 L115.0,747.7 L121.0,728.1 L127.1,747.7 L133.7,761.2 L140.2,766.0 L150.7,725.0 L158.0,682.6 L163.5,658.1 L169.5,668.6 L177.2,742.1 L182.1,825.8 L187.7,897.9 L193.6,961.3 L197.8,986.1 L202.9,1001.0 L209.9,1008.0 L237.2,1008.0" fill="none" stroke="#ffd400" stroke-width="2.5" stroke-linejoin="round"/>
<path d="M246.6,1008.0 L252.9,1008.0 L261.9,1008.0 L270.0,1008.0 L276.1,1007.7 L281.2,1007.3 L285.4,1006.7 L288.1,1005.9 L289.7,1004.9 L291.4,1003.6 L293.5,1002.0 L295.7,1000.0 L297.7,997.5 L299.6,994.4 L301.4,990.8 L303.1,987.3 L304.5,983.9 L305.8,980.5 L307.1,977.1 L308.4,973.7 L309.8,970.3 L311.1,966.9 L312.6,963.4 L314.0,960.0 L315.7,956.5 L317.5,953.0 L319.6,949.5 L321.7,946.3 L324.0,943.5 L326.3,941.0 L328.6,938.8 L330.9,936.9 L333.1,935.2 L335.5,933.7 L338.1,932.5 L341.0,931.6 L344.0,930.5 L347.4,929.3 L351.0,928.0 L354.4,926.3 L357.5,924.2 L360.4,921.8 L363.1,919.2 L365.4,916.7 L367.4,914.0 L369.6,910.8 L372.4,906.3 L375.4,901.2 L378.1,897.7 L380.3,896.7 L382.2,897.3 L384.0,898.0 L385.8,898.7 L387.5,899.6 L389.1,900.5 L390.4,901.3 L391.5,902.1 L393.4,902.2 L396.4,901.2 L400.1,899.6 L403.4,898.2 L406.0,897.1 L408.3,896.3 L410.4,895.7 L412.3,895.5 L414.0,895.7 L415.6,896.3 L417.3,897.2 L418.9,898.7 L420.8,901.1 L423.4,905.1 L426.2,910.1 L428.8,915.0 L430.9,919.7 L432.8,924.3 L434.6,927.8 L436.2,929.9 L437.8,931.0 L439.4,931.5 L441.1,931.9 L442.9,931.6 L444.9,930.4 L447.3,928.1 L449.9,924.8 L452.7,920.5 L455.8,914.8 L459.1,908.1 L462.2,901.6 L464.9,895.7 L467.5,890.0 L470.0,884.3 L472.7,878.4 L475.3,872.5 L478.0,867.7 L480.7,864.3 L483.3,861.8 L485.9,860.0 L488.0,858.4 L490.2,857.4 L493.4,857.4 L498.9,859.7 L505.5,863.0 L511.1,864.8 L514.6,864.2 L517.1,862.0 L519.9,857.7 L523.6,849.7 L527.6,839.6 L531.4,830.7 L534.9,823.6 L538.2,817.7 L541.3,814.8 L544.1,815.4 L546.7,818.9 L549.2,825.3 L551.9,835.7 L554.5,849.1 L557.2,862.3 L559.9,875.3 L562.7,888.2 L565.1,898.3 L567.2,904.5 L569.0,907.9 L570.8,908.8 L572.9,907.2 L574.9,903.2 L577.1,897.2 L579.2,888.8 L581.5,878.4 L583.9,867.9 L586.5,857.4 L589.2,846.8 L591.9,838.3 L594.5,832.7 L597.1,829.3 L599.5,827.1 L601.5,826.2 L603.4,826.7 L605.1,827.6 L606.7,829.3 L608.1,831.5 L609.1,833.0" fill="none" stroke="#ffd400" stroke-width="2.5" stroke-linejoin="round"/>
<path d="M75.6,1007.0 L83.3,1004.5 L88.3,993.6 L93.8,961.8 L100.4,904.1 L105.9,855.0 L110.9,791.5 L115.6,739.5 L121.7,719.3 L127.7,739.5 L133.0,750.6 L138.2,752.9 L149.1,714.1 L157.0,675.8 L162.5,650.8 L168.5,661.5 L176.6,737.7 L181.4,825.8 L187.1,897.9 L193.0,961.3 L197.2,986.1 L202.3,1001.0 L209.3,1008.0 L237.2,1008.0" fill="none" stroke="#ff8c00" stroke-width="2.5" stroke-linejoin="round"/>
<path d="M246.6,1008.0 L251.7,1008.0 L259.1,1008.0 L266.0,1008.0 L271.9,1007.7 L277.4,1007.3 L281.9,1006.7 L284.8,1005.9 L286.6,1004.9 L288.4,1003.6 L290.7,1002.0 L292.9,1000.0 L295.1,997.5 L297.1,994.4 L298.9,990.8 L300.6,987.3 L302.0,983.9 L303.3,980.5 L304.6,977.1 L305.9,973.7 L307.2,970.3 L308.6,966.9 L310.0,963.4 L311.5,960.0 L313.2,956.5 L315.1,953.0 L317.1,949.6 L319.2,946.3 L321.5,943.3 L323.9,940.6 L326.2,938.2 L328.5,936.2 L330.8,934.5 L333.3,933.1 L336.1,931.8 L339.2,930.8 L342.4,929.7 L345.8,928.5 L349.3,927.1 L352.5,925.6 L355.5,923.6 L358.1,921.5 L360.6,919.2 L362.6,916.9 L364.5,914.4 L366.7,911.8 L370.0,908.5 L373.7,905.1 L376.9,902.7 L379.3,902.0 L381.2,902.5 L382.9,902.9 L384.6,903.2 L386.0,903.4 L387.2,903.7 L387.8,904.0 L388.2,904.3 L389.6,904.1 L392.7,902.9 L396.6,901.1 L400.3,899.5 L403.0,898.2 L405.3,897.1 L407.5,896.2 L409.5,895.4 L411.3,894.9 L413.0,895.1 L414.7,896.1 L416.3,897.7 L418.2,900.3 L420.7,904.3 L423.5,909.2 L426.0,914.0 L428.1,918.7 L430.0,923.2 L431.7,926.7 L433.4,928.8 L435.0,929.8 L436.6,930.3 L438.3,930.6 L440.0,930.4 L442.1,929.2 L444.4,926.9 L447.0,923.7 L449.8,919.6 L452.8,914.1 L456.1,907.6 L459.2,901.2 L462.0,895.1 L464.7,889.0 L467.4,883.2 L470.0,877.4 L472.6,871.9 L475.3,867.1 L477.9,863.4 L480.6,860.4 L483.2,858.0 L485.6,855.8 L487.9,854.1 L491.1,853.8 L496.1,856.1 L502.0,859.7 L507.0,861.9 L510.1,862.2 L512.4,861.0 L515.1,857.4 L518.9,849.7 L523.3,839.5 L527.4,830.4 L531.0,823.0 L534.4,816.7 L537.6,813.4 L540.5,813.7 L543.0,816.9 L545.6,823.3 L548.3,834.0 L551.0,847.8 L553.7,861.4 L556.5,874.6 L559.1,887.7 L561.6,897.9 L563.8,904.2 L565.8,907.8 L567.8,908.8 L569.8,907.2 L571.9,903.0 L573.9,897.2 L575.8,889.5 L577.7,880.1 L579.8,870.2 L582.5,859.2 L585.4,847.7 L588.3,838.4 L591.0,832.7 L593.7,829.3 L596.2,827.2 L598.4,826.3 L600.5,826.7 L602.2,827.6 L603.9,829.3 L605.3,831.5 L606.3,833.0" fill="none" stroke="#ff8c00" stroke-width="2.5" stroke-linejoin="round"/>
<path d="M75.6,1007.1 L87.7,1005.0 L92.8,995.7 L98.2,968.6 L104.9,919.3 L110.3,877.4 L115.4,823.2 L120.0,778.8 L126.1,761.6 L132.2,778.8 L137.0,781.9 L141.9,776.2 L151.3,733.5 L157.4,688.0 L162.9,663.9 L168.9,674.2 L177.0,745.6 L181.9,825.8 L187.5,897.9 L193.4,961.3 L197.6,986.1 L202.7,1001.0 L209.7,1008.0 L237.2,1008.0" fill="none" stroke="#ffaa00" stroke-width="2.5" stroke-linejoin="round"/>
<path d="M246.6,1008.0 L251.7,1008.0 L259.1,1008.0 L266.0,1008.0 L271.9,1007.7 L277.4,1007.3 L281.9,1006.7 L284.8,1005.9 L286.6,1004.9 L288.4,1003.6 L290.7,1002.0 L292.9,1000.0 L295.1,997.5 L297.1,994.4 L298.9,990.8 L300.6,987.3 L302.0,983.9 L303.3,980.5 L304.6,977.1 L305.9,973.7 L307.2,970.3 L308.6,966.9 L310.0,963.4 L311.5,960.0 L313.2,956.5 L315.1,953.0 L317.1,949.6 L319.2,946.3 L321.5,943.3 L323.9,940.6 L326.2,938.2 L328.5,936.2 L330.8,934.5 L333.3,933.1 L336.1,931.8 L339.2,930.8 L342.4,929.7 L345.8,928.5 L349.3,927.1 L352.5,925.6 L355.5,923.6 L358.1,921.5 L360.6,919.2 L362.6,916.9 L364.5,914.4 L366.7,911.8 L370.0,908.5 L373.7,905.1 L376.9,902.7 L379.3,902.0 L381.2,902.5 L382.9,902.9 L384.6,903.2 L386.0,903.4 L387.2,903.7 L387.8,904.0 L388.2,904.3 L389.6,904.1 L392.7,902.9 L396.6,901.1 L400.3,899.5 L403.0,898.2 L405.3,897.1 L407.5,896.2 L409.5,895.4 L411.3,894.9 L413.0,895.1 L414.7,896.1 L416.3,897.7 L418.2,900.3 L420.7,904.3 L423.5,909.2 L426.0,914.0 L428.1,918.7 L430.0,923.2 L431.7,926.7 L433.4,928.8 L435.0,929.8 L436.6,930.3 L438.3,930.6 L440.0,930.4 L442.1,929.2 L444.4,926.9 L447.0,923.7 L449.8,919.6 L452.8,914.1 L456.1,907.6 L459.2,901.2 L462.0,895.1 L464.7,889.0 L467.4,883.2 L470.0,877.4 L472.6,871.9 L475.3,867.1 L477.9,863.4 L480.6,860.4 L483.2,858.0 L485.6,855.8 L487.9,854.1 L491.1,853.8 L496.1,856.1 L502.0,859.7 L507.0,861.9 L510.1,862.2 L512.4,861.0 L515.1,857.4 L518.9,849.7 L523.3,839.5 L527.4,830.4 L531.0,823.0 L534.4,816.7 L537.6,813.4 L540.5,813.7 L543.0,816.9 L545.6,823.3 L548.3,834.0 L551.0,847.8 L553.7,861.4 L556.5,874.6 L559.1,887.7 L561.6,897.9 L563.8,904.2 L565.8,907.8 L567.8,908.8 L569.8,907.2 L571.9,903.0 L573.9,897.2 L575.8,889.5 L577.7,880.1 L579.8,870.2 L582.5,859.2 L585.4,847.7 L588.3,838.4 L591.0,832.7 L593.7,829.3 L596.2,827.2 L598.4,826.3 L600.5,826.7 L602.2,827.6 L603.9,829.3 L605.3,831.5 L606.3,833.0" fill="none" stroke="#ffaa00" stroke-width="2.5" stroke-linejoin="round"/>
<path d="M75.6,1006.9 L82.7,1004.5 L87.7,993.3 L93.2,961.1 L99.8,902.5 L105.3,852.7 L110.3,788.2 L115.0,735.5 L121.0,714.9 L127.1,735.5 L134.2,759.5 L141.2,774.7 L151.6,745.9 L158.8,714.4 L164.3,698.9 L170.3,708.2 L174.6,766.6 L179.4,825.8 L185.1,897.9 L190.9,961.3 L195.2,986.1 L200.2,1001.0 L207.3,1008.0 L237.2,1008.0" fill="none" stroke="#ff2400" stroke-width="2.5" stroke-linejoin="round"/>
<path d="M246.6,1008.0 L250.2,1008.0 L255.4,1008.0 L260.6,1008.0 L265.5,1007.7 L270.4,1007.3 L274.6,1006.7 L277.4,1005.9 L279.5,1004.9 L281.6,1003.6 L284.0,1002.0 L286.4,1000.0 L288.7,997.5 L290.8,994.4 L292.9,990.8 L294.7,987.3 L296.2,983.9 L297.5,980.5 L298.7,977.1 L299.9,973.7 L301.1,970.3 L302.3,966.9 L303.7,963.4 L305.1,960.0 L306.8,956.5 L308.6,953.0 L310.7,949.6 L312.8,946.3 L314.9,943.3 L317.1,940.6 L319.4,938.2 L321.8,936.2 L324.2,934.5 L326.9,933.1 L329.7,931.9 L332.7,930.9 L335.9,929.7 L339.5,928.3 L343.4,926.7 L346.9,925.0 L349.9,923.2 L352.5,921.3 L354.9,919.2 L357.2,916.8 L359.4,914.2 L362.0,911.7 L365.5,909.0 L369.4,906.4 L372.9,904.4 L375.3,903.1 L377.2,902.4 L379.1,902.0 L381.2,902.1 L383.3,902.4 L385.2,902.8 L386.4,903.3 L387.5,903.8 L389.2,902.8 L392.4,899.5 L396.3,894.6 L399.8,889.6 L402.4,884.7 L404.6,879.6 L407.0,875.1 L410.2,870.9 L413.6,867.2 L416.7,866.1 L419.1,868.7 L421.2,873.9 L423.2,879.9 L425.3,886.4 L427.2,893.8 L429.1,901.1 L430.7,908.7 L432.2,916.2 L433.7,922.0 L435.3,925.2 L436.9,926.6 L438.6,927.0 L440.5,926.4 L442.5,924.8 L444.4,922.5 L446.1,919.6 L447.8,916.0 L449.4,911.9 L450.7,907.8 L451.8,903.3 L453.6,897.9 L456.5,890.9 L459.9,882.9 L463.0,875.7 L465.4,869.6 L467.5,864.3 L469.7,859.4 L472.0,855.3 L474.4,851.6 L476.8,847.7 L479.0,842.2 L481.2,836.4 L484.1,833.8 L488.4,836.8 L493.5,842.9 L498.0,848.0 L500.9,851.3 L503.2,853.7 L506.1,853.2 L510.3,848.5 L515.2,841.0 L519.9,832.9 L524.1,823.8 L528.2,814.2 L531.7,808.2 L534.5,807.3 L536.9,810.0 L539.3,816.1 L542.1,826.8 L545.1,840.8 L547.8,854.7 L550.2,867.9 L552.4,881.0 L554.7,891.8 L557.1,899.9 L559.6,905.8 L562.0,908.6 L564.1,907.2 L566.1,902.8 L568.0,897.2 L569.7,891.5 L571.4,884.6 L573.7,875.6 L577.2,862.1 L581.3,846.5 L585.0,834.6 L587.7,829.2 L590.0,827.5 L592.1,826.8 L594.3,826.2 L596.3,826.7 L598.1,827.6 L599.7,829.3 L601.2,831.5 L602.2,833.1" fill="none" stroke="#ff2400" stroke-width="2.5" stroke-linejoin="round"/>
<path d="M75.6,1006.9 L82.9,1004.5 L87.9,993.3 L93.4,960.9 L100.0,902.0 L105.5,851.9 L110.5,787.1 L115.2,734.1 L121.3,713.5 L127.3,734.1 L134.0,757.3 L140.6,771.8 L151.2,743.5 L158.6,713.0 L164.1,697.4 L170.1,706.8 L174.8,765.7 L179.6,825.8 L185.3,897.9 L191.1,961.3 L195.4,986.1 L200.4,1001.0 L207.5,1008.0 L237.2,1008.0" fill="none" stroke="#ff4400" stroke-width="2.5" stroke-linejoin="round"/>
<path d="M246.6,1008.0 L250.2,1008.0 L255.4,1008.0 L260.6,1008.0 L265.6,1007.7 L270.6,1007.3 L274.7,1006.7 L277.6,1005.9 L279.7,1004.9 L281.8,1003.6 L284.2,1002.0 L286.5,1000.0 L288.8,997.5 L291.0,994.4 L293.0,990.8 L294.8,987.3 L296.4,983.9 L297.6,980.5 L298.9,977.1 L300.1,973.7 L301.2,970.3 L302.5,966.9 L303.8,963.4 L305.3,960.0 L306.9,956.5 L308.8,953.0 L310.8,949.6 L313.0,946.3 L315.1,943.3 L317.3,940.6 L319.6,938.2 L322.0,936.2 L324.4,934.5 L327.0,933.1 L329.9,931.9 L332.9,930.9 L336.1,929.7 L339.7,928.3 L343.6,926.7 L347.2,925.0 L350.1,923.2 L352.7,921.3 L355.2,919.2 L357.5,916.8 L359.6,914.3 L362.2,911.8 L365.8,909.1 L369.9,906.5 L373.3,904.5 L375.7,903.3 L377.5,902.6 L379.4,902.3 L381.4,902.3 L383.5,902.7 L385.4,903.0 L386.6,903.6 L387.7,904.0 L389.4,903.0 L392.6,899.7 L396.5,894.8 L400.1,889.9 L402.6,885.1 L404.7,880.2 L407.1,875.8 L410.3,871.4 L413.8,867.6 L417.0,866.4 L419.5,869.1 L421.6,874.4 L423.6,880.4 L425.7,886.9 L427.6,894.3 L429.5,901.6 L431.1,909.2 L432.6,916.8 L434.1,922.6 L435.6,925.7 L437.2,927.0 L438.9,927.2 L440.8,926.6 L442.8,924.9 L444.7,922.6 L446.5,919.5 L448.2,915.8 L449.8,911.8 L451.0,907.7 L452.1,903.3 L453.8,897.9 L456.7,890.9 L460.1,883.0 L463.3,875.8 L465.7,869.7 L467.8,864.3 L469.9,859.4 L472.2,855.3 L474.6,851.7 L476.9,847.8 L479.0,842.0 L481.1,835.9 L484.0,833.0 L488.4,836.1 L493.6,842.3 L498.1,847.6 L501.0,851.2 L503.2,853.8 L506.1,853.5 L510.4,848.8 L515.4,841.2 L520.2,833.0 L524.5,823.7 L528.5,813.8 L532.1,807.7 L534.9,806.7 L537.2,809.4 L539.7,815.5 L542.6,826.4 L545.6,840.8 L548.4,854.9 L550.7,868.0 L552.8,880.7 L555.0,891.4 L557.5,899.6 L560.0,905.7 L562.4,908.6 L564.6,907.2 L566.6,902.8 L568.5,897.2 L570.1,891.7 L571.7,885.1 L573.9,876.2 L577.4,862.6 L581.6,846.6 L585.4,834.5 L588.2,829.1 L590.5,827.5 L592.6,826.8 L594.8,826.3 L596.8,826.7 L598.7,827.6 L600.3,829.3 L601.7,831.5 L602.7,833.0" fill="none" stroke="#ff4400" stroke-width="2.5" stroke-linejoin="round"/>
<path d="M75.6,1006.9 L83.5,1004.4 L88.5,993.1 L94.0,960.2 L100.6,900.4 L106.1,849.6 L111.2,783.8 L115.8,730.0 L121.9,709.1 L127.9,730.0 L132.6,740.0 L137.2,741.2 L148.3,705.7 L156.4,673.1 L161.9,647.9 L167.9,658.7 L176.2,735.9 L181.0,825.8 L186.7,897.9 L192.6,961.3 L196.8,986.1 L201.8,1001.0 L208.9,1008.0 L237.2,1008.0" fill="none" stroke="#ff6e00" stroke-width="2.5" stroke-linejoin="round"/>
<path d="M246.6,1008.0 L250.2,1008.0 L255.4,1008.0 L260.6,1008.0 L265.6,1007.7 L270.6,1007.3 L274.7,1006.7 L277.6,1005.9 L279.7,1004.9 L281.8,1003.6 L284.2,1002.0 L286.5,1000.0 L288.8,997.5 L291.0,994.4 L293.0,990.8 L294.8,987.3 L296.4,983.9 L297.6,980.5 L298.9,977.1 L300.1,973.7 L301.2,970.3 L302.5,966.9 L303.8,963.4 L305.3,960.0 L306.9,956.5 L308.8,953.0 L310.8,949.6 L313.0,946.3 L315.1,943.3 L317.3,940.6 L319.6,938.2 L322.0,936.2 L324.4,934.5 L327.0,933.1 L329.9,931.9 L332.9,930.9 L336.1,929.7 L339.7,928.3 L343.6,926.7 L347.2,925.0 L350.1,923.2 L352.7,921.3 L355.2,919.2 L357.5,916.8 L359.6,914.3 L362.2,911.8 L365.8,909.1 L369.9,906.5 L373.3,904.5 L375.7,903.3 L377.5,902.6 L379.4,902.3 L381.4,902.3 L383.5,902.7 L385.4,903.0 L386.6,903.6 L387.7,904.0 L389.4,903.0 L392.6,899.7 L396.5,894.8 L400.1,889.9 L402.6,885.1 L404.7,880.2 L407.1,875.8 L410.3,871.4 L413.8,867.6 L417.0,866.4 L419.5,869.1 L421.6,874.4 L423.6,880.4 L425.7,886.9 L427.6,894.3 L429.5,901.6 L431.1,909.2 L432.6,916.8 L434.1,922.6 L435.6,925.7 L437.2,927.0 L438.9,927.2 L440.8,926.6 L442.8,924.9 L444.7,922.6 L446.5,919.5 L448.2,915.8 L449.8,911.8 L451.0,907.7 L452.1,903.3 L453.8,897.9 L456.7,890.9 L460.1,883.0 L463.3,875.8 L465.7,869.7 L467.8,864.3 L469.9,859.4 L472.2,855.3 L474.6,851.7 L476.9,847.8 L479.0,842.0 L481.1,835.9 L484.0,833.0 L488.4,836.1 L493.6,842.3 L498.1,847.6 L501.0,851.2 L503.2,853.8 L506.1,853.5 L510.4,848.8 L515.4,841.2 L520.2,833.0 L524.5,823.7 L528.5,813.8 L532.1,807.7 L534.9,806.7 L537.2,809.4 L539.7,815.5 L542.6,826.4 L545.6,840.8 L548.4,854.9 L550.7,868.0 L552.8,880.7 L555.0,891.4 L557.5,899.6 L560.0,905.7 L562.4,908.6 L564.6,907.2 L566.6,902.8 L568.5,897.2 L570.1,891.7 L571.7,885.1 L573.9,876.2 L577.4,862.6 L581.6,846.6 L585.4,834.5 L588.2,829.1 L590.5,827.5 L592.6,826.8 L594.8,826.3 L596.8,826.7 L598.7,827.6 L600.3,829.3 L601.7,831.5 L602.7,833.0" fill="none" stroke="#ff6e00" stroke-width="2.5" stroke-linejoin="round"/>
<path d="M75.6,1007.0 L82.7,1004.5 L87.7,993.4 L93.2,961.3 L99.8,903.0 L105.3,853.5 L110.3,789.3 L115.0,736.8 L121.0,716.4 L127.1,736.8 L134.4,760.9 L141.7,776.2 L151.9,747.4 L159.0,715.7 L164.5,700.4 L170.5,709.6 L174.2,767.4 L179.0,825.8 L184.7,897.9 L190.5,961.3 L194.8,986.1 L199.8,1001.0 L206.9,1008.0 L237.2,1008.0" fill="none" stroke="#ff0000" stroke-width="2.5" stroke-linejoin="round"/>
<path d="M246.6,1008.0 L249.7,1008.0 L254.1,1008.0 L258.6,1008.0 L263.0,1007.7 L267.3,1007.3 L271.1,1006.7 L273.8,1005.9 L276.0,1004.9 L278.1,1003.6 L280.6,1002.0 L283.1,1000.0 L285.4,997.5 L287.6,994.4 L289.6,990.8 L291.4,987.3 L292.8,983.9 L293.9,980.5 L295.0,977.1 L296.2,973.7 L297.4,970.3 L298.7,966.9 L300.1,963.4 L301.6,960.0 L303.3,956.5 L305.2,953.0 L307.2,949.6 L309.3,946.3 L311.5,943.3 L313.7,940.6 L316.0,938.2 L318.3,936.2 L320.7,934.5 L323.2,933.1 L325.9,931.9 L328.7,930.9 L331.7,929.7 L335.1,928.3 L338.8,926.7 L342.1,925.0 L344.7,923.3 L347.0,921.5 L349.2,919.2 L351.5,916.3 L353.9,912.9 L356.2,909.7 L358.4,906.9 L360.7,904.2 L363.3,901.7 L366.6,899.3 L370.4,897.1 L373.7,895.7 L376.4,895.6 L378.7,896.3 L380.8,897.0 L382.3,898.2 L383.6,899.4 L385.4,898.8 L388.1,895.4 L391.3,890.2 L394.6,884.1 L398.1,876.5 L401.7,868.1 L404.7,861.8 L406.8,858.7 L408.4,857.8 L409.9,858.3 L411.7,859.9 L413.4,863.0 L415.2,867.6 L416.9,874.5 L418.7,883.0 L420.4,890.9 L422.1,897.8 L423.9,904.2 L425.6,909.7 L427.4,914.6 L429.3,918.6 L431.1,921.4 L432.8,922.7 L434.6,922.7 L436.3,922.0 L437.7,920.8 L439.1,918.9 L440.9,915.6 L443.4,910.4 L446.2,903.9 L449.2,896.9 L452.3,889.1 L455.5,880.7 L458.4,873.4 L460.9,868.0 L463.0,863.7 L465.5,859.4 L468.3,854.3 L471.4,849.2 L474.7,846.0 L478.4,845.9 L482.2,847.7 L486.0,849.8 L489.5,852.3 L492.8,855.1 L496.0,856.2 L499.3,854.8 L502.5,851.7 L505.5,847.6 L508.1,842.3 L510.4,836.1 L513.2,830.6 L516.8,825.8 L520.9,821.8 L524.4,819.9 L526.8,820.9 L528.5,824.1 L530.3,828.7 L531.9,833.6 L533.6,839.9 L535.9,849.5 L539.5,866.0 L543.8,885.8 L547.4,900.8 L549.3,907.3 L550.5,909.0 L552.0,908.6 L553.9,907.0 L556.1,903.4 L558.6,897.2 L561.7,887.1 L565.1,874.5 L568.3,862.8 L571.0,852.7 L573.4,843.5 L575.7,836.2 L577.8,831.4 L579.8,828.5 L581.6,826.8 L583.2,826.1 L584.7,826.5 L586.2,827.6 L587.8,829.7 L589.5,832.5 L590.6,834.5" fill="none" stroke="#ff0000" stroke-width="2.5" stroke-linejoin="round"/>
</g>
<path d="M248.2,961 L277.6,950.7 L277.6,959.3 L298.2,959.3 L298.2,962.7 L277.6,962.7 L277.6,971.2 Z" fill="#000"/>
<rect x="595.2" y="567.6" width="26.5" height="19.5" fill="#3f0075"/>
<rect x="595.2" y="586.6" width="26.5" height="19.5" fill="#33007a"/>
<rect x="595.2" y="605.6" width="26.5" height="19.5" fill="#2a007a"/>
<rect x="595.2" y="624.7" width="26.5" height="19.5" fill="#150070"/>
<rect x="595.2" y="643.7" width="26.5" height="19.5" fill="#0c0080"/>
<rect x="595.2" y="662.7" width="26.5" height="19.5" fill="#0000a8"/>
<rect x="595.2" y="681.7" width="26.5" height="19.5" fill="#0000d8"/>
<rect x="595.2" y="700.7" width="26.5" height="19.5" fill="#0000ff"/>
<rect x="595.2" y="719.7" width="26.5" height="19.5" fill="#0a28e0"/>
<rect x="595.2" y="738.8" width="26.5" height="19.5" fill="#04508c"/>
<rect x="595.2" y="757.8" width="26.5" height="19.5" fill="#08884a"/>
<rect x="595.2" y="776.8" width="26.5" height="19.5" fill="#10c010"/>
<rect x="595.2" y="795.8" width="26.5" height="19.5" fill="#40d000"/>
<rect x="595.2" y="814.8" width="26.5" height="19.5" fill="#90e000"/>
<rect x="595.2" y="833.8" width="26.5" height="19.5" fill="#d0f000"/>
<rect x="595.2" y="852.9" width="26.5" height="19.5" fill="#ffff00"/>
<rect x="595.2" y="871.9" width="26.5" height="19.5" fill="#ffd400"/>
<rect x="595.2" y="890.9" width="26.5" height="19.5" fill="#ffaa00"/>
<rect x="595.2" y="909.9" width="26.5" height="19.5" fill="#ff8c00"/>
<rect x="595.2" y="928.9" width="26.5" height="19.5" fill="#ff6e00"/>
<rect x="595.2" y="947.9" width="26.5" height="19.5" fill="#ff4400"/>
<rect x="595.2" y="967.0" width="26.5" height="19.5" fill="#ff2400"/>
<rect x="595.2" y="986.0" width="26.5" height="19.5" fill="#ff0000"/>
<rect x="595.2" y="567.6" width="26.5" height="437.4" fill="none" stroke="#222" stroke-width="1.2"/>
<line x1="621.7" y1="577.1" x2="629" y2="577.1" stroke="#000" stroke-width="1"/>
<text transform="translate(633.60,581.41) scale(1,1.045)" font-size="12.1" font-weight="bold" text-anchor="start" fill="#000" >1.9 K</text>
<line x1="621.7" y1="596.1" x2="629" y2="596.1" stroke="#000" stroke-width="1"/>
<text transform="translate(633.60,600.43) scale(1,1.045)" font-size="12.1" font-weight="bold" text-anchor="start" fill="#000" >5.32 K</text>
<line x1="621.7" y1="615.1" x2="629" y2="615.1" stroke="#000" stroke-width="1"/>
<text transform="translate(633.60,619.44) scale(1,1.045)" font-size="12.1" font-weight="bold" text-anchor="start" fill="#000" >10.68 K</text>
<line x1="621.7" y1="634.2" x2="629" y2="634.2" stroke="#000" stroke-width="1"/>
<text transform="translate(633.60,638.46) scale(1,1.045)" font-size="12.1" font-weight="bold" text-anchor="start" fill="#000" >15.04 K</text>
<line x1="621.7" y1="653.2" x2="629" y2="653.2" stroke="#000" stroke-width="1"/>
<text transform="translate(633.60,657.48) scale(1,1.045)" font-size="12.1" font-weight="bold" text-anchor="start" fill="#000" >17.36 K</text>
<line x1="621.7" y1="672.2" x2="629" y2="672.2" stroke="#000" stroke-width="1"/>
<text transform="translate(633.60,676.50) scale(1,1.045)" font-size="12.1" font-weight="bold" text-anchor="start" fill="#000" >19.69 K</text>
<line x1="621.7" y1="691.2" x2="629" y2="691.2" stroke="#000" stroke-width="1"/>
<text transform="translate(633.60,695.51) scale(1,1.045)" font-size="12.1" font-weight="bold" text-anchor="start" fill="#000" >24.92 K</text>
<line x1="621.7" y1="710.2" x2="629" y2="710.2" stroke="#000" stroke-width="1"/>
<text transform="translate(633.60,714.53) scale(1,1.045)" font-size="12.1" font-weight="bold" text-anchor="start" fill="#000" >29.47 K</text>
<line x1="621.7" y1="729.2" x2="629" y2="729.2" stroke="#000" stroke-width="1"/>
<text transform="translate(633.60,733.55) scale(1,1.045)" font-size="12.1" font-weight="bold" text-anchor="start" fill="#000" >55.71 K</text>
<line x1="621.7" y1="748.3" x2="629" y2="748.3" stroke="#000" stroke-width="1"/>
<text transform="translate(633.60,752.57) scale(1,1.045)" font-size="12.1" font-weight="bold" text-anchor="start" fill="#000" >60.35 K</text>
<line x1="621.7" y1="767.3" x2="629" y2="767.3" stroke="#000" stroke-width="1"/>
<text transform="translate(633.60,771.58) scale(1,1.045)" font-size="12.1" font-weight="bold" text-anchor="start" fill="#000" >69.88 K</text>
<line x1="621.7" y1="786.3" x2="629" y2="786.3" stroke="#000" stroke-width="1"/>
<text transform="translate(633.60,790.60) scale(1,1.045)" font-size="12.1" font-weight="bold" text-anchor="start" fill="#000" >80.15 K</text>
<line x1="621.7" y1="805.3" x2="629" y2="805.3" stroke="#000" stroke-width="1"/>
<text transform="translate(633.60,809.62) scale(1,1.045)" font-size="12.1" font-weight="bold" text-anchor="start" fill="#000" >89.14 K</text>
<line x1="621.7" y1="824.3" x2="629" y2="824.3" stroke="#000" stroke-width="1"/>
<text transform="translate(633.60,828.63) scale(1,1.045)" font-size="12.1" font-weight="bold" text-anchor="start" fill="#000" >104.32 K</text>
<line x1="621.7" y1="843.4" x2="629" y2="843.4" stroke="#000" stroke-width="1"/>
<text transform="translate(633.60,847.65) scale(1,1.045)" font-size="12.1" font-weight="bold" text-anchor="start" fill="#000" >114.69 K</text>
<line x1="621.7" y1="862.4" x2="629" y2="862.4" stroke="#000" stroke-width="1"/>
<text transform="translate(633.60,866.67) scale(1,1.045)" font-size="12.1" font-weight="bold" text-anchor="start" fill="#000" >124.31 K</text>
<line x1="621.7" y1="881.4" x2="629" y2="881.4" stroke="#000" stroke-width="1"/>
<text transform="translate(633.60,885.69) scale(1,1.045)" font-size="12.1" font-weight="bold" text-anchor="start" fill="#000" >144.82 K</text>
<line x1="621.7" y1="900.4" x2="629" y2="900.4" stroke="#000" stroke-width="1"/>
<text transform="translate(633.60,904.70) scale(1,1.045)" font-size="12.1" font-weight="bold" text-anchor="start" fill="#000" >154.51 K</text>
<line x1="621.7" y1="919.4" x2="629" y2="919.4" stroke="#000" stroke-width="1"/>
<text transform="translate(633.60,923.72) scale(1,1.045)" font-size="12.1" font-weight="bold" text-anchor="start" fill="#000" >164.13 K</text>
<line x1="621.7" y1="938.4" x2="629" y2="938.4" stroke="#000" stroke-width="1"/>
<text transform="translate(633.60,942.74) scale(1,1.045)" font-size="12.1" font-weight="bold" text-anchor="start" fill="#000" >208.61 K</text>
<line x1="621.7" y1="957.5" x2="629" y2="957.5" stroke="#000" stroke-width="1"/>
<text transform="translate(633.60,961.76) scale(1,1.045)" font-size="12.1" font-weight="bold" text-anchor="start" fill="#000" >218.04 K</text>
<line x1="621.7" y1="976.5" x2="629" y2="976.5" stroke="#000" stroke-width="1"/>
<text transform="translate(633.60,980.77) scale(1,1.045)" font-size="12.1" font-weight="bold" text-anchor="start" fill="#000" >228.9 K</text>
<line x1="621.7" y1="995.5" x2="629" y2="995.5" stroke="#000" stroke-width="1"/>
<text transform="translate(633.60,999.79) scale(1,1.045)" font-size="12.1" font-weight="bold" text-anchor="start" fill="#000" >248.34 K</text>
</svg>
</body></html>
